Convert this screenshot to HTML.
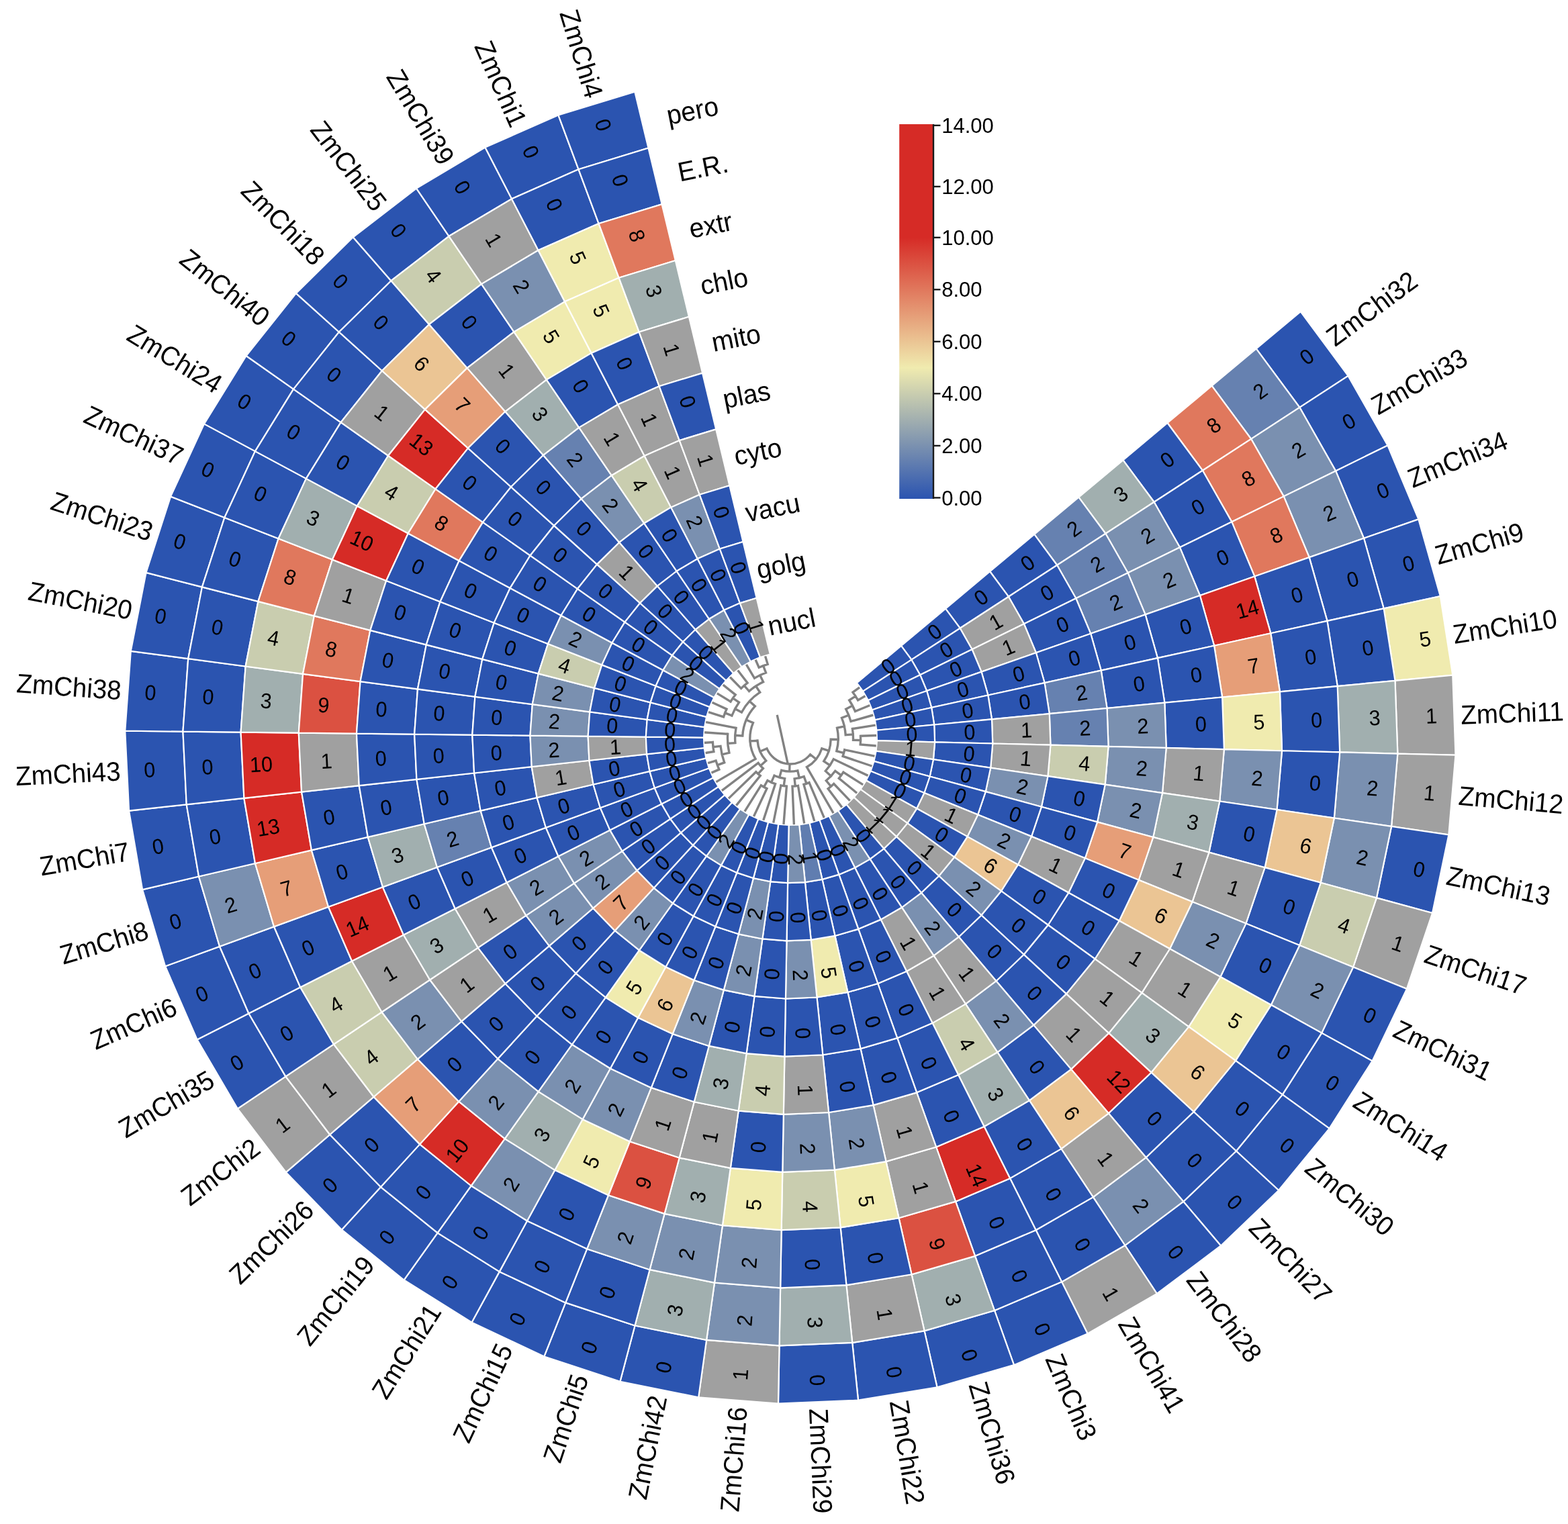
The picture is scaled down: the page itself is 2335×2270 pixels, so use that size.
<!DOCTYPE html>
<html lang="en"><head><meta charset="utf-8"><title>ZmChi subcellular localization heatmap</title>
<style>html,body{margin:0;padding:0;background:#fff}body{width:2335px;height:2270px;overflow:hidden}svg{display:block}text{font-family:"Liberation Sans",Arial,Helvetica,sans-serif;fill:#000}.c{font-size:30.6px;text-anchor:middle}.g{font-size:38.6px}.r{font-size:38.8px}.k{font-size:31px}.t{fill:none;stroke:#8c8c8c;stroke-width:3.2}</style></head><body>
<svg xmlns="http://www.w3.org/2000/svg" width="2335" height="2270" viewBox="0 0 2335 2270">
<rect width="2335" height="2270" fill="#fff"/>
<g stroke="#fff" stroke-width="2.2" stroke-linejoin="miter">
<path d="M1936.77 464.05L2007.61 559.84L1935.36 606.82L1870.69 519.37Z" fill="#2b54b0"/>
<path d="M1870.69 519.37L1935.36 606.82L1863.12 653.81L1804.6 574.68Z" fill="#6681b0"/>
<path d="M1804.6 574.68L1863.12 653.81L1790.87 700.79L1738.52 630Z" fill="#e0785d"/>
<path d="M1738.52 630L1790.87 700.79L1718.62 747.77L1672.43 685.31Z" fill="#2b54b0"/>
<path d="M1672.43 685.31L1718.62 747.77L1646.38 794.76L1606.35 740.63Z" fill="#a1afaf"/>
<path d="M1606.35 740.63L1646.38 794.76L1574.13 841.74L1540.26 795.94Z" fill="#6681b0"/>
<path d="M1540.26 795.94L1574.13 841.74L1501.88 888.72L1474.18 851.26Z" fill="#2b54b0"/>
<path d="M1474.18 851.26L1501.88 888.72L1429.64 935.71L1408.09 906.57Z" fill="#2b54b0"/>
<path d="M1408.09 906.57L1429.64 935.71L1357.39 982.69L1342.01 961.89Z" fill="#2b54b0"/>
<path d="M1342.01 961.89L1357.39 982.69L1285.14 1029.67L1275.92 1017.2Z" fill="#2b54b0"/>
<path d="M2007.61 559.84L2066.43 663.43L1989.07 701.41L1935.36 606.82Z" fill="#2b54b0"/>
<path d="M1935.36 606.82L1989.07 701.41L1911.71 739.38L1863.12 653.81Z" fill="#7a90b0"/>
<path d="M1863.12 653.81L1911.71 739.38L1834.34 777.35L1790.87 700.79Z" fill="#e0785d"/>
<path d="M1790.87 700.79L1834.34 777.35L1756.98 815.32L1718.62 747.77Z" fill="#2b54b0"/>
<path d="M1718.62 747.77L1756.98 815.32L1679.62 853.3L1646.38 794.76Z" fill="#7a90b0"/>
<path d="M1646.38 794.76L1679.62 853.3L1602.26 891.27L1574.13 841.74Z" fill="#6681b0"/>
<path d="M1574.13 841.74L1602.26 891.27L1524.89 929.24L1501.88 888.72Z" fill="#2b54b0"/>
<path d="M1501.88 888.72L1524.89 929.24L1447.53 967.21L1429.64 935.71Z" fill="#a0a0a0"/>
<path d="M1429.64 935.71L1447.53 967.21L1370.17 1005.19L1357.39 982.69Z" fill="#2b54b0"/>
<path d="M1357.39 982.69L1370.17 1005.19L1292.8 1043.16L1285.14 1029.67Z" fill="#2b54b0"/>
<path d="M2066.43 663.43L2112.4 773.34L2031.04 801.75L1989.07 701.41Z" fill="#2b54b0"/>
<path d="M1989.07 701.41L2031.04 801.75L1949.68 830.16L1911.71 739.38Z" fill="#7a90b0"/>
<path d="M1911.71 739.38L1949.68 830.16L1868.32 858.58L1834.34 777.35Z" fill="#e0785d"/>
<path d="M1834.34 777.35L1868.32 858.58L1786.96 886.99L1756.98 815.32Z" fill="#2b54b0"/>
<path d="M1756.98 815.32L1786.96 886.99L1705.59 915.4L1679.62 853.3Z" fill="#7a90b0"/>
<path d="M1679.62 853.3L1705.59 915.4L1624.23 943.82L1602.26 891.27Z" fill="#6681b0"/>
<path d="M1602.26 891.27L1624.23 943.82L1542.87 972.23L1524.89 929.24Z" fill="#2b54b0"/>
<path d="M1524.89 929.24L1542.87 972.23L1461.51 1000.64L1447.53 967.21Z" fill="#a0a0a0"/>
<path d="M1447.53 967.21L1461.51 1000.64L1380.15 1029.06L1370.17 1005.19Z" fill="#2b54b0"/>
<path d="M1370.17 1005.19L1380.15 1029.06L1298.79 1057.47L1292.8 1043.16Z" fill="#2b54b0"/>
<path d="M2112.4 773.34L2144.85 887.97L2060.66 906.41L2031.04 801.75Z" fill="#2b54b0"/>
<path d="M2031.04 801.75L2060.66 906.41L1976.48 924.85L1949.68 830.16Z" fill="#2b54b0"/>
<path d="M1949.68 830.16L1976.48 924.85L1892.3 943.29L1868.32 858.58Z" fill="#2b54b0"/>
<path d="M1868.32 858.58L1892.3 943.29L1808.11 961.74L1786.96 886.99Z" fill="#d62b26"/>
<path d="M1786.96 886.99L1808.11 961.74L1723.93 980.18L1705.59 915.4Z" fill="#2b54b0"/>
<path d="M1705.59 915.4L1723.93 980.18L1639.75 998.62L1624.23 943.82Z" fill="#2b54b0"/>
<path d="M1624.23 943.82L1639.75 998.62L1555.56 1017.07L1542.87 972.23Z" fill="#2b54b0"/>
<path d="M1542.87 972.23L1555.56 1017.07L1471.38 1035.51L1461.51 1000.64Z" fill="#2b54b0"/>
<path d="M1461.51 1000.64L1471.38 1035.51L1387.19 1053.95L1380.15 1029.06Z" fill="#2b54b0"/>
<path d="M1380.15 1029.06L1387.19 1053.95L1303.01 1072.39L1298.79 1057.47Z" fill="#2b54b0"/>
<path d="M2144.85 887.97L2163.3 1005.66L2077.51 1013.87L2060.66 906.41Z" fill="#f0ebaf"/>
<path d="M2060.66 906.41L2077.51 1013.87L1991.72 1022.07L1976.48 924.85Z" fill="#2b54b0"/>
<path d="M1976.48 924.85L1991.72 1022.07L1905.93 1030.28L1892.3 943.29Z" fill="#2b54b0"/>
<path d="M1892.3 943.29L1905.93 1030.28L1820.14 1038.48L1808.11 961.74Z" fill="#e69e78"/>
<path d="M1808.11 961.74L1820.14 1038.48L1734.36 1046.69L1723.93 980.18Z" fill="#2b54b0"/>
<path d="M1723.93 980.18L1734.36 1046.69L1648.57 1054.89L1639.75 998.62Z" fill="#2b54b0"/>
<path d="M1639.75 998.62L1648.57 1054.89L1562.78 1063.1L1555.56 1017.07Z" fill="#6681b0"/>
<path d="M1555.56 1017.07L1562.78 1063.1L1476.99 1071.31L1471.38 1035.51Z" fill="#2b54b0"/>
<path d="M1471.38 1035.51L1476.99 1071.31L1391.2 1079.51L1387.19 1053.95Z" fill="#2b54b0"/>
<path d="M1387.19 1053.95L1391.2 1079.51L1305.41 1087.72L1303.01 1072.39Z" fill="#2b54b0"/>
<path d="M2163.3 1005.66L2167.49 1124.72L2081.34 1122.57L2077.51 1013.87Z" fill="#a0a0a0"/>
<path d="M2077.51 1013.87L2081.34 1122.57L1995.19 1120.42L1991.72 1022.07Z" fill="#a1afaf"/>
<path d="M1991.72 1022.07L1995.19 1120.42L1909.03 1118.27L1905.93 1030.28Z" fill="#2b54b0"/>
<path d="M1905.93 1030.28L1909.03 1118.27L1822.88 1116.12L1820.14 1038.48Z" fill="#f0ebaf"/>
<path d="M1820.14 1038.48L1822.88 1116.12L1736.73 1113.97L1734.36 1046.69Z" fill="#2b54b0"/>
<path d="M1734.36 1046.69L1736.73 1113.97L1650.57 1111.82L1648.57 1054.89Z" fill="#7a90b0"/>
<path d="M1648.57 1054.89L1650.57 1111.82L1564.42 1109.67L1562.78 1063.1Z" fill="#6681b0"/>
<path d="M1562.78 1063.1L1564.42 1109.67L1478.27 1107.52L1476.99 1071.31Z" fill="#a0a0a0"/>
<path d="M1476.99 1071.31L1478.27 1107.52L1392.11 1105.37L1391.2 1079.51Z" fill="#2b54b0"/>
<path d="M1391.2 1079.51L1392.11 1105.37L1305.96 1103.22L1305.41 1087.72Z" fill="#2b54b0"/>
<path d="M2167.49 1124.72L2157.37 1243.42L2072.09 1230.94L2081.34 1122.57Z" fill="#a0a0a0"/>
<path d="M2081.34 1122.57L2072.09 1230.94L1986.82 1218.47L1995.19 1120.42Z" fill="#7a90b0"/>
<path d="M1995.19 1120.42L1986.82 1218.47L1901.55 1205.99L1909.03 1118.27Z" fill="#2b54b0"/>
<path d="M1909.03 1118.27L1901.55 1205.99L1816.28 1193.52L1822.88 1116.12Z" fill="#7a90b0"/>
<path d="M1822.88 1116.12L1816.28 1193.52L1731 1181.05L1736.73 1113.97Z" fill="#a0a0a0"/>
<path d="M1736.73 1113.97L1731 1181.05L1645.73 1168.57L1650.57 1111.82Z" fill="#7a90b0"/>
<path d="M1650.57 1111.82L1645.73 1168.57L1560.46 1156.1L1564.42 1109.67Z" fill="#c9cdaf"/>
<path d="M1564.42 1109.67L1560.46 1156.1L1475.19 1143.62L1478.27 1107.52Z" fill="#a0a0a0"/>
<path d="M1478.27 1107.52L1475.19 1143.62L1389.91 1131.15L1392.11 1105.37Z" fill="#2b54b0"/>
<path d="M1392.11 1105.37L1389.91 1131.15L1304.64 1118.67L1305.96 1103.22Z" fill="#a0a0a0"/>
<path d="M2157.37 1243.42L2133.07 1360.04L2049.91 1337.43L2072.09 1230.94Z" fill="#2b54b0"/>
<path d="M2072.09 1230.94L2049.91 1337.43L1966.75 1314.81L1986.82 1218.47Z" fill="#7a90b0"/>
<path d="M1986.82 1218.47L1966.75 1314.81L1883.59 1292.19L1901.55 1205.99Z" fill="#ebc594"/>
<path d="M1901.55 1205.99L1883.59 1292.19L1800.43 1269.57L1816.28 1193.52Z" fill="#2b54b0"/>
<path d="M1816.28 1193.52L1800.43 1269.57L1717.27 1246.95L1731 1181.05Z" fill="#a1afaf"/>
<path d="M1731 1181.05L1717.27 1246.95L1634.11 1224.33L1645.73 1168.57Z" fill="#7a90b0"/>
<path d="M1645.73 1168.57L1634.11 1224.33L1550.95 1201.71L1560.46 1156.1Z" fill="#2b54b0"/>
<path d="M1560.46 1156.1L1550.95 1201.71L1467.8 1179.09L1475.19 1143.62Z" fill="#7a90b0"/>
<path d="M1475.19 1143.62L1467.8 1179.09L1384.64 1156.48L1389.91 1131.15Z" fill="#2b54b0"/>
<path d="M1389.91 1131.15L1384.64 1156.48L1301.48 1133.86L1304.64 1118.67Z" fill="#2b54b0"/>
<path d="M2133.07 1360.04L2094.94 1472.91L2015.1 1440.48L2049.91 1337.43Z" fill="#a0a0a0"/>
<path d="M2049.91 1337.43L2015.1 1440.48L1935.26 1408.04L1966.75 1314.81Z" fill="#c9cdaf"/>
<path d="M1966.75 1314.81L1935.26 1408.04L1855.42 1375.6L1883.59 1292.19Z" fill="#2b54b0"/>
<path d="M1883.59 1292.19L1855.42 1375.6L1775.57 1343.17L1800.43 1269.57Z" fill="#a0a0a0"/>
<path d="M1800.43 1269.57L1775.57 1343.17L1695.73 1310.73L1717.27 1246.95Z" fill="#a0a0a0"/>
<path d="M1717.27 1246.95L1695.73 1310.73L1615.89 1278.3L1634.11 1224.33Z" fill="#e69e78"/>
<path d="M1634.11 1224.33L1615.89 1278.3L1536.04 1245.86L1550.95 1201.71Z" fill="#2b54b0"/>
<path d="M1550.95 1201.71L1536.04 1245.86L1456.2 1213.42L1467.8 1179.09Z" fill="#2b54b0"/>
<path d="M1467.8 1179.09L1456.2 1213.42L1376.36 1180.99L1384.64 1156.48Z" fill="#2b54b0"/>
<path d="M1384.64 1156.48L1376.36 1180.99L1296.51 1148.55L1301.48 1133.86Z" fill="#2b54b0"/>
<path d="M2094.94 1472.91L2043.55 1580.39L1968.18 1538.6L2015.1 1440.48Z" fill="#2b54b0"/>
<path d="M2015.1 1440.48L1968.18 1538.6L1892.81 1496.82L1935.26 1408.04Z" fill="#7a90b0"/>
<path d="M1935.26 1408.04L1892.81 1496.82L1817.43 1455.04L1855.42 1375.6Z" fill="#2b54b0"/>
<path d="M1855.42 1375.6L1817.43 1455.04L1742.06 1413.25L1775.57 1343.17Z" fill="#7a90b0"/>
<path d="M1775.57 1343.17L1742.06 1413.25L1666.69 1371.47L1695.73 1310.73Z" fill="#ebc594"/>
<path d="M1695.73 1310.73L1666.69 1371.47L1591.31 1329.68L1615.89 1278.3Z" fill="#2b54b0"/>
<path d="M1615.89 1278.3L1591.31 1329.68L1515.94 1287.9L1536.04 1245.86Z" fill="#a0a0a0"/>
<path d="M1536.04 1245.86L1515.94 1287.9L1440.57 1246.11L1456.2 1213.42Z" fill="#7a90b0"/>
<path d="M1456.2 1213.42L1440.57 1246.11L1365.2 1204.33L1376.36 1180.99Z" fill="#a0a0a0"/>
<path d="M1376.36 1180.99L1365.2 1204.33L1289.82 1162.55L1296.51 1148.55Z" fill="#2b54b0"/>
<path d="M2043.55 1580.39L1979.63 1680.92L1909.82 1630.39L1968.18 1538.6Z" fill="#2b54b0"/>
<path d="M1968.18 1538.6L1909.82 1630.39L1840.01 1579.86L1892.81 1496.82Z" fill="#2b54b0"/>
<path d="M1892.81 1496.82L1840.01 1579.86L1770.19 1529.33L1817.43 1455.04Z" fill="#f0ebaf"/>
<path d="M1817.43 1455.04L1770.19 1529.33L1700.38 1478.81L1742.06 1413.25Z" fill="#a0a0a0"/>
<path d="M1742.06 1413.25L1700.38 1478.81L1630.57 1428.28L1666.69 1371.47Z" fill="#a0a0a0"/>
<path d="M1666.69 1371.47L1630.57 1428.28L1560.75 1377.75L1591.31 1329.68Z" fill="#2b54b0"/>
<path d="M1591.31 1329.68L1560.75 1377.75L1490.94 1327.22L1515.94 1287.9Z" fill="#2b54b0"/>
<path d="M1515.94 1287.9L1490.94 1327.22L1421.13 1276.69L1440.57 1246.11Z" fill="#ebc594"/>
<path d="M1440.57 1246.11L1421.13 1276.69L1351.31 1226.16L1365.2 1204.33Z" fill="#2b54b0"/>
<path d="M1365.2 1204.33L1351.31 1226.16L1281.5 1175.63L1289.82 1162.55Z" fill="#a0a0a0"/>
<path d="M1979.63 1680.92L1904.11 1773.05L1840.86 1714.51L1909.82 1630.39Z" fill="#2b54b0"/>
<path d="M1909.82 1630.39L1840.86 1714.51L1777.62 1655.97L1840.01 1579.86Z" fill="#2b54b0"/>
<path d="M1840.01 1579.86L1777.62 1655.97L1714.38 1597.43L1770.19 1529.33Z" fill="#ebc594"/>
<path d="M1770.19 1529.33L1714.38 1597.43L1651.13 1538.88L1700.38 1478.81Z" fill="#a1afaf"/>
<path d="M1700.38 1478.81L1651.13 1538.88L1587.89 1480.34L1630.57 1428.28Z" fill="#a0a0a0"/>
<path d="M1630.57 1428.28L1587.89 1480.34L1524.64 1421.8L1560.75 1377.75Z" fill="#2b54b0"/>
<path d="M1560.75 1377.75L1524.64 1421.8L1461.4 1363.26L1490.94 1327.22Z" fill="#2b54b0"/>
<path d="M1490.94 1327.22L1461.4 1363.26L1398.16 1304.71L1421.13 1276.69Z" fill="#7a90b0"/>
<path d="M1421.13 1276.69L1398.16 1304.71L1334.91 1246.17L1351.31 1226.16Z" fill="#a0a0a0"/>
<path d="M1351.31 1226.16L1334.91 1246.17L1271.67 1187.63L1281.5 1175.63Z" fill="#a0a0a0"/>
<path d="M1904.11 1773.05L1818.07 1855.45L1762.31 1789.74L1840.86 1714.51Z" fill="#2b54b0"/>
<path d="M1840.86 1714.51L1762.31 1789.74L1706.55 1724.03L1777.62 1655.97Z" fill="#2b54b0"/>
<path d="M1777.62 1655.97L1706.55 1724.03L1650.79 1658.33L1714.38 1597.43Z" fill="#2b54b0"/>
<path d="M1714.38 1597.43L1650.79 1658.33L1595.03 1592.62L1651.13 1538.88Z" fill="#d62b26"/>
<path d="M1651.13 1538.88L1595.03 1592.62L1539.27 1526.91L1587.89 1480.34Z" fill="#a0a0a0"/>
<path d="M1587.89 1480.34L1539.27 1526.91L1483.51 1461.2L1524.64 1421.8Z" fill="#2b54b0"/>
<path d="M1524.64 1421.8L1483.51 1461.2L1427.75 1395.49L1461.4 1363.26Z" fill="#2b54b0"/>
<path d="M1461.4 1363.26L1427.75 1395.49L1371.99 1329.78L1398.16 1304.71Z" fill="#2b54b0"/>
<path d="M1398.16 1304.71L1371.99 1329.78L1316.23 1264.07L1334.91 1246.17Z" fill="#2b54b0"/>
<path d="M1334.91 1246.17L1316.23 1264.07L1260.47 1198.36L1271.67 1187.63Z" fill="#a0a0a0"/>
<path d="M1818.07 1855.45L1722.77 1926.93L1675.3 1855.01L1762.31 1789.74Z" fill="#2b54b0"/>
<path d="M1762.31 1789.74L1675.3 1855.01L1627.83 1783.08L1706.55 1724.03Z" fill="#7a90b0"/>
<path d="M1706.55 1724.03L1627.83 1783.08L1580.36 1711.15L1650.79 1658.33Z" fill="#a0a0a0"/>
<path d="M1650.79 1658.33L1580.36 1711.15L1532.88 1639.23L1595.03 1592.62Z" fill="#ebc594"/>
<path d="M1595.03 1592.62L1532.88 1639.23L1485.41 1567.3L1539.27 1526.91Z" fill="#2b54b0"/>
<path d="M1539.27 1526.91L1485.41 1567.3L1437.94 1495.37L1483.51 1461.2Z" fill="#7a90b0"/>
<path d="M1483.51 1461.2L1437.94 1495.37L1390.47 1423.45L1427.75 1395.49Z" fill="#a0a0a0"/>
<path d="M1427.75 1395.49L1390.47 1423.45L1343 1351.52L1371.99 1329.78Z" fill="#7a90b0"/>
<path d="M1371.99 1329.78L1343 1351.52L1295.53 1279.59L1316.23 1264.07Z" fill="#2b54b0"/>
<path d="M1316.23 1264.07L1295.53 1279.59L1248.06 1207.67L1260.47 1198.36Z" fill="#2b54b0"/>
<path d="M1722.77 1926.93L1619.57 1986.46L1581.08 1909.36L1675.3 1855.01Z" fill="#a0a0a0"/>
<path d="M1675.3 1855.01L1581.08 1909.36L1542.58 1832.25L1627.83 1783.08Z" fill="#2b54b0"/>
<path d="M1627.83 1783.08L1542.58 1832.25L1504.09 1755.15L1580.36 1711.15Z" fill="#2b54b0"/>
<path d="M1580.36 1711.15L1504.09 1755.15L1465.59 1678.04L1532.88 1639.23Z" fill="#2b54b0"/>
<path d="M1532.88 1639.23L1465.59 1678.04L1427.1 1600.94L1485.41 1567.3Z" fill="#a1afaf"/>
<path d="M1485.41 1567.3L1427.1 1600.94L1388.6 1523.83L1437.94 1495.37Z" fill="#c9cdaf"/>
<path d="M1437.94 1495.37L1388.6 1523.83L1350.11 1446.73L1390.47 1423.45Z" fill="#a0a0a0"/>
<path d="M1390.47 1423.45L1350.11 1446.73L1311.61 1369.62L1343 1351.52Z" fill="#a0a0a0"/>
<path d="M1343 1351.52L1311.61 1369.62L1273.12 1292.52L1295.53 1279.59Z" fill="#2b54b0"/>
<path d="M1295.53 1279.59L1273.12 1292.52L1234.62 1215.42L1248.06 1207.67Z" fill="#7a90b0"/>
<path d="M1619.57 1986.46L1509.98 2033.17L1481.02 1952L1581.08 1909.36Z" fill="#2b54b0"/>
<path d="M1581.08 1909.36L1481.02 1952L1452.06 1870.84L1542.58 1832.25Z" fill="#2b54b0"/>
<path d="M1542.58 1832.25L1452.06 1870.84L1423.09 1789.67L1504.09 1755.15Z" fill="#2b54b0"/>
<path d="M1504.09 1755.15L1423.09 1789.67L1394.13 1708.5L1465.59 1678.04Z" fill="#d62b26"/>
<path d="M1465.59 1678.04L1394.13 1708.5L1365.17 1627.33L1427.1 1600.94Z" fill="#2b54b0"/>
<path d="M1427.1 1600.94L1365.17 1627.33L1336.21 1546.17L1388.6 1523.83Z" fill="#2b54b0"/>
<path d="M1388.6 1523.83L1336.21 1546.17L1307.24 1465L1350.11 1446.73Z" fill="#2b54b0"/>
<path d="M1350.11 1446.73L1307.24 1465L1278.28 1383.83L1311.61 1369.62Z" fill="#2b54b0"/>
<path d="M1311.61 1369.62L1278.28 1383.83L1249.32 1302.66L1273.12 1292.52Z" fill="#2b54b0"/>
<path d="M1273.12 1292.52L1249.32 1302.66L1220.35 1221.5L1234.62 1215.42Z" fill="#2b54b0"/>
<path d="M1509.98 2033.17L1395.58 2066.39L1376.56 1982.33L1481.02 1952Z" fill="#2b54b0"/>
<path d="M1481.02 1952L1376.56 1982.33L1357.55 1898.28L1452.06 1870.84Z" fill="#a1afaf"/>
<path d="M1452.06 1870.84L1357.55 1898.28L1338.54 1814.22L1423.09 1789.67Z" fill="#db5141"/>
<path d="M1423.09 1789.67L1338.54 1814.22L1319.53 1730.16L1394.13 1708.5Z" fill="#a0a0a0"/>
<path d="M1394.13 1708.5L1319.53 1730.16L1300.52 1646.11L1365.17 1627.33Z" fill="#a0a0a0"/>
<path d="M1365.17 1627.33L1300.52 1646.11L1281.51 1562.05L1336.21 1546.17Z" fill="#2b54b0"/>
<path d="M1336.21 1546.17L1281.51 1562.05L1262.49 1477.99L1307.24 1465Z" fill="#2b54b0"/>
<path d="M1307.24 1465L1262.49 1477.99L1243.48 1393.94L1278.28 1383.83Z" fill="#2b54b0"/>
<path d="M1278.28 1383.83L1243.48 1393.94L1224.47 1309.88L1249.32 1302.66Z" fill="#2b54b0"/>
<path d="M1249.32 1302.66L1224.47 1309.88L1205.46 1225.82L1220.35 1221.5Z" fill="#2b54b0"/>
<path d="M1395.58 2066.39L1278.01 2085.64L1269.22 1999.91L1376.56 1982.33Z" fill="#2b54b0"/>
<path d="M1376.56 1982.33L1269.22 1999.91L1260.44 1914.18L1357.55 1898.28Z" fill="#a0a0a0"/>
<path d="M1357.55 1898.28L1260.44 1914.18L1251.65 1828.44L1338.54 1814.22Z" fill="#2b54b0"/>
<path d="M1338.54 1814.22L1251.65 1828.44L1242.87 1742.71L1319.53 1730.16Z" fill="#f0ebaf"/>
<path d="M1319.53 1730.16L1242.87 1742.71L1234.08 1656.98L1300.52 1646.11Z" fill="#7a90b0"/>
<path d="M1300.52 1646.11L1234.08 1656.98L1225.3 1571.25L1281.51 1562.05Z" fill="#2b54b0"/>
<path d="M1281.51 1562.05L1225.3 1571.25L1216.51 1485.52L1262.49 1477.99Z" fill="#2b54b0"/>
<path d="M1262.49 1477.99L1216.51 1485.52L1207.72 1399.79L1243.48 1393.94Z" fill="#f0ebaf"/>
<path d="M1243.48 1393.94L1207.72 1399.79L1198.94 1314.06L1224.47 1309.88Z" fill="#2b54b0"/>
<path d="M1224.47 1309.88L1198.94 1314.06L1190.15 1228.33L1205.46 1225.82Z" fill="#607db0"/>
<path d="M1278.01 2085.64L1158.98 2090.64L1160.55 2004.47L1269.22 1999.91Z" fill="#2b54b0"/>
<path d="M1269.22 1999.91L1160.55 2004.47L1162.12 1918.3L1260.44 1914.18Z" fill="#a1afaf"/>
<path d="M1260.44 1914.18L1162.12 1918.3L1163.69 1832.14L1251.65 1828.44Z" fill="#2b54b0"/>
<path d="M1251.65 1828.44L1163.69 1832.14L1165.25 1745.97L1242.87 1742.71Z" fill="#c9cdaf"/>
<path d="M1242.87 1742.71L1165.25 1745.97L1166.82 1659.81L1234.08 1656.98Z" fill="#7a90b0"/>
<path d="M1234.08 1656.98L1166.82 1659.81L1168.39 1573.64L1225.3 1571.25Z" fill="#a0a0a0"/>
<path d="M1225.3 1571.25L1168.39 1573.64L1169.95 1487.48L1216.51 1485.52Z" fill="#2b54b0"/>
<path d="M1216.51 1485.52L1169.95 1487.48L1171.52 1401.31L1207.72 1399.79Z" fill="#7a90b0"/>
<path d="M1207.72 1399.79L1171.52 1401.31L1173.09 1315.14L1198.94 1314.06Z" fill="#2b54b0"/>
<path d="M1198.94 1314.06L1173.09 1315.14L1174.65 1228.98L1190.15 1228.33Z" fill="#7a90b0"/>
<path d="M1158.98 2090.64L1040.22 2081.31L1052.12 1995.96L1160.55 2004.47Z" fill="#a0a0a0"/>
<path d="M1160.55 2004.47L1052.12 1995.96L1064.01 1910.6L1162.12 1918.3Z" fill="#7a90b0"/>
<path d="M1162.12 1918.3L1064.01 1910.6L1075.91 1825.25L1163.69 1832.14Z" fill="#7a90b0"/>
<path d="M1163.69 1832.14L1075.91 1825.25L1087.81 1739.89L1165.25 1745.97Z" fill="#f0ebaf"/>
<path d="M1165.25 1745.97L1087.81 1739.89L1099.7 1654.54L1166.82 1659.81Z" fill="#2b54b0"/>
<path d="M1166.82 1659.81L1099.7 1654.54L1111.6 1569.18L1168.39 1573.64Z" fill="#c9cdaf"/>
<path d="M1168.39 1573.64L1111.6 1569.18L1123.5 1483.83L1169.95 1487.48Z" fill="#2b54b0"/>
<path d="M1169.95 1487.48L1123.5 1483.83L1135.4 1398.47L1171.52 1401.31Z" fill="#2b54b0"/>
<path d="M1171.52 1401.31L1135.4 1398.47L1147.29 1313.12L1173.09 1315.14Z" fill="#2b54b0"/>
<path d="M1173.09 1315.14L1147.29 1313.12L1159.19 1227.76L1174.65 1228.98Z" fill="#2b54b0"/>
<path d="M1040.22 2081.31L923.43 2057.8L945.49 1974.49L1052.12 1995.96Z" fill="#2b54b0"/>
<path d="M1052.12 1995.96L945.49 1974.49L967.54 1891.18L1064.01 1910.6Z" fill="#a1afaf"/>
<path d="M1064.01 1910.6L967.54 1891.18L989.6 1807.87L1075.91 1825.25Z" fill="#7a90b0"/>
<path d="M1075.91 1825.25L989.6 1807.87L1011.65 1724.56L1087.81 1739.89Z" fill="#a1afaf"/>
<path d="M1087.81 1739.89L1011.65 1724.56L1033.71 1641.25L1099.7 1654.54Z" fill="#a0a0a0"/>
<path d="M1099.7 1654.54L1033.71 1641.25L1055.76 1557.94L1111.6 1569.18Z" fill="#a1afaf"/>
<path d="M1111.6 1569.18L1055.76 1557.94L1077.82 1474.63L1123.5 1483.83Z" fill="#2b54b0"/>
<path d="M1123.5 1483.83L1077.82 1474.63L1099.87 1391.32L1135.4 1398.47Z" fill="#7a90b0"/>
<path d="M1135.4 1398.47L1099.87 1391.32L1121.93 1308.01L1147.29 1313.12Z" fill="#7a90b0"/>
<path d="M1147.29 1313.12L1121.93 1308.01L1143.99 1224.7L1159.19 1227.76Z" fill="#2b54b0"/>
<path d="M923.43 2057.8L810.31 2020.45L842.2 1940.39L945.49 1974.49Z" fill="#2b54b0"/>
<path d="M945.49 1974.49L842.2 1940.39L874.1 1860.32L967.54 1891.18Z" fill="#2b54b0"/>
<path d="M967.54 1891.18L874.1 1860.32L905.99 1780.26L989.6 1807.87Z" fill="#7a90b0"/>
<path d="M989.6 1807.87L905.99 1780.26L937.89 1700.2L1011.65 1724.56Z" fill="#db5141"/>
<path d="M1011.65 1724.56L937.89 1700.2L969.78 1620.14L1033.71 1641.25Z" fill="#a0a0a0"/>
<path d="M1033.71 1641.25L969.78 1620.14L1001.68 1540.08L1055.76 1557.94Z" fill="#2b54b0"/>
<path d="M1055.76 1557.94L1001.68 1540.08L1033.57 1460.02L1077.82 1474.63Z" fill="#7a90b0"/>
<path d="M1077.82 1474.63L1033.57 1460.02L1065.47 1379.96L1099.87 1391.32Z" fill="#2b54b0"/>
<path d="M1099.87 1391.32L1065.47 1379.96L1097.36 1299.9L1121.93 1308.01Z" fill="#2b54b0"/>
<path d="M1121.93 1308.01L1097.36 1299.9L1129.26 1219.84L1143.99 1224.7Z" fill="#2b54b0"/>
<path d="M810.31 2020.45L702.49 1969.78L743.76 1894.13L842.2 1940.39Z" fill="#2b54b0"/>
<path d="M842.2 1940.39L743.76 1894.13L785.03 1818.47L874.1 1860.32Z" fill="#2b54b0"/>
<path d="M874.1 1860.32L785.03 1818.47L826.31 1742.82L905.99 1780.26Z" fill="#2b54b0"/>
<path d="M905.99 1780.26L826.31 1742.82L867.58 1667.17L937.89 1700.2Z" fill="#f0ebaf"/>
<path d="M937.89 1700.2L867.58 1667.17L908.85 1591.51L969.78 1620.14Z" fill="#7a90b0"/>
<path d="M969.78 1620.14L908.85 1591.51L950.13 1515.86L1001.68 1540.08Z" fill="#2b54b0"/>
<path d="M1001.68 1540.08L950.13 1515.86L991.4 1440.21L1033.57 1460.02Z" fill="#ebc594"/>
<path d="M1033.57 1460.02L991.4 1440.21L1032.67 1364.55L1065.47 1379.96Z" fill="#2b54b0"/>
<path d="M1065.47 1379.96L1032.67 1364.55L1073.95 1288.9L1097.36 1299.9Z" fill="#2b54b0"/>
<path d="M1097.36 1299.9L1073.95 1288.9L1115.22 1213.24L1129.26 1219.84Z" fill="#2b54b0"/>
<path d="M702.49 1969.78L601.52 1906.54L651.58 1836.39L743.76 1894.13Z" fill="#2b54b0"/>
<path d="M743.76 1894.13L651.58 1836.39L701.63 1766.24L785.03 1818.47Z" fill="#2b54b0"/>
<path d="M785.03 1818.47L701.63 1766.24L751.69 1696.08L826.31 1742.82Z" fill="#7a90b0"/>
<path d="M826.31 1742.82L751.69 1696.08L801.74 1625.93L867.58 1667.17Z" fill="#a1afaf"/>
<path d="M867.58 1667.17L801.74 1625.93L851.8 1555.78L908.85 1591.51Z" fill="#7a90b0"/>
<path d="M908.85 1591.51L851.8 1555.78L901.85 1485.62L950.13 1515.86Z" fill="#2b54b0"/>
<path d="M950.13 1515.86L901.85 1485.62L951.91 1415.47L991.4 1440.21Z" fill="#f0ebaf"/>
<path d="M991.4 1440.21L951.91 1415.47L1001.96 1345.32L1032.67 1364.55Z" fill="#2b54b0"/>
<path d="M1032.67 1364.55L1001.96 1345.32L1052.02 1275.16L1073.95 1288.9Z" fill="#2b54b0"/>
<path d="M1073.95 1288.9L1052.02 1275.16L1102.07 1205.01L1115.22 1213.24Z" fill="#7a90b0"/>
<path d="M601.52 1906.54L508.88 1831.65L567 1768.01L651.58 1836.39Z" fill="#2b54b0"/>
<path d="M651.58 1836.39L567 1768.01L625.11 1704.37L701.63 1766.24Z" fill="#2b54b0"/>
<path d="M701.63 1766.24L625.11 1704.37L683.22 1640.73L751.69 1696.08Z" fill="#d62b26"/>
<path d="M751.69 1696.08L683.22 1640.73L741.34 1577.09L801.74 1625.93Z" fill="#7a90b0"/>
<path d="M801.74 1625.93L741.34 1577.09L799.45 1513.45L851.8 1555.78Z" fill="#2b54b0"/>
<path d="M851.8 1555.78L799.45 1513.45L857.56 1449.81L901.85 1485.62Z" fill="#2b54b0"/>
<path d="M901.85 1485.62L857.56 1449.81L915.67 1386.17L951.91 1415.47Z" fill="#2b54b0"/>
<path d="M951.91 1415.47L915.67 1386.17L973.79 1322.54L1001.96 1345.32Z" fill="#7a90b0"/>
<path d="M1001.96 1345.32L973.79 1322.54L1031.9 1258.9L1052.02 1275.16Z" fill="#2b54b0"/>
<path d="M1052.02 1275.16L1031.9 1258.9L1090.01 1195.26L1102.07 1205.01Z" fill="#2b54b0"/>
<path d="M508.88 1831.65L425.9 1746.17L491.23 1689.97L567 1768.01Z" fill="#2b54b0"/>
<path d="M567 1768.01L491.23 1689.97L556.56 1633.76L625.11 1704.37Z" fill="#2b54b0"/>
<path d="M625.11 1704.37L556.56 1633.76L621.89 1577.56L683.22 1640.73Z" fill="#e69e78"/>
<path d="M683.22 1640.73L621.89 1577.56L687.22 1521.35L741.34 1577.09Z" fill="#2b54b0"/>
<path d="M741.34 1577.09L687.22 1521.35L752.55 1465.15L799.45 1513.45Z" fill="#2b54b0"/>
<path d="M799.45 1513.45L752.55 1465.15L817.89 1408.95L857.56 1449.81Z" fill="#2b54b0"/>
<path d="M857.56 1449.81L817.89 1408.95L883.22 1352.74L915.67 1386.17Z" fill="#2b54b0"/>
<path d="M915.67 1386.17L883.22 1352.74L948.55 1296.54L973.79 1322.54Z" fill="#e69e78"/>
<path d="M973.79 1322.54L948.55 1296.54L1013.88 1240.33L1031.9 1258.9Z" fill="#2b54b0"/>
<path d="M1031.9 1258.9L1013.88 1240.33L1079.21 1184.13L1090.01 1195.26Z" fill="#2b54b0"/>
<path d="M425.9 1746.17L353.78 1651.35L425.38 1603.39L491.23 1689.97Z" fill="#a0a0a0"/>
<path d="M491.23 1689.97L425.38 1603.39L496.99 1555.44L556.56 1633.76Z" fill="#a0a0a0"/>
<path d="M556.56 1633.76L496.99 1555.44L568.59 1507.48L621.89 1577.56Z" fill="#c9cdaf"/>
<path d="M621.89 1577.56L568.59 1507.48L640.19 1459.52L687.22 1521.35Z" fill="#7a90b0"/>
<path d="M687.22 1521.35L640.19 1459.52L711.8 1411.57L752.55 1465.15Z" fill="#a0a0a0"/>
<path d="M752.55 1465.15L711.8 1411.57L783.4 1363.61L817.89 1408.95Z" fill="#2b54b0"/>
<path d="M817.89 1408.95L783.4 1363.61L855.01 1315.65L883.22 1352.74Z" fill="#7a90b0"/>
<path d="M883.22 1352.74L855.01 1315.65L926.61 1267.7L948.55 1296.54Z" fill="#7a90b0"/>
<path d="M948.55 1296.54L926.61 1267.7L998.21 1219.74L1013.88 1240.33Z" fill="#2b54b0"/>
<path d="M1013.88 1240.33L998.21 1219.74L1069.82 1171.78L1079.21 1184.13Z" fill="#2b54b0"/>
<path d="M353.78 1651.35L293.55 1548.56L370.4 1509.55L425.38 1603.39Z" fill="#2b54b0"/>
<path d="M425.38 1603.39L370.4 1509.55L447.24 1470.53L496.99 1555.44Z" fill="#2b54b0"/>
<path d="M496.99 1555.44L447.24 1470.53L524.08 1431.51L568.59 1507.48Z" fill="#c9cdaf"/>
<path d="M568.59 1507.48L524.08 1431.51L600.92 1392.5L640.19 1459.52Z" fill="#a0a0a0"/>
<path d="M640.19 1459.52L600.92 1392.5L677.77 1353.48L711.8 1411.57Z" fill="#a1afaf"/>
<path d="M711.8 1411.57L677.77 1353.48L754.61 1314.47L783.4 1363.61Z" fill="#a0a0a0"/>
<path d="M783.4 1363.61L754.61 1314.47L831.45 1275.45L855.01 1315.65Z" fill="#7a90b0"/>
<path d="M855.01 1315.65L831.45 1275.45L908.29 1236.43L926.61 1267.7Z" fill="#7a90b0"/>
<path d="M926.61 1267.7L908.29 1236.43L985.14 1197.42L998.21 1219.74Z" fill="#2b54b0"/>
<path d="M998.21 1219.74L985.14 1197.42L1061.98 1158.4L1069.82 1171.78Z" fill="#2b54b0"/>
<path d="M293.55 1548.56L246.1 1439.29L327.07 1409.78L370.4 1509.55Z" fill="#2b54b0"/>
<path d="M370.4 1509.55L327.07 1409.78L408.04 1380.27L447.24 1470.53Z" fill="#2b54b0"/>
<path d="M447.24 1470.53L408.04 1380.27L489.01 1350.75L524.08 1431.51Z" fill="#2b54b0"/>
<path d="M524.08 1431.51L489.01 1350.75L569.98 1321.24L600.92 1392.5Z" fill="#d62b26"/>
<path d="M600.92 1392.5L569.98 1321.24L650.95 1291.73L677.77 1353.48Z" fill="#2b54b0"/>
<path d="M677.77 1353.48L650.95 1291.73L731.92 1262.22L754.61 1314.47Z" fill="#2b54b0"/>
<path d="M754.61 1314.47L731.92 1262.22L812.89 1232.71L831.45 1275.45Z" fill="#2b54b0"/>
<path d="M831.45 1275.45L812.89 1232.71L893.86 1203.2L908.29 1236.43Z" fill="#2b54b0"/>
<path d="M908.29 1236.43L893.86 1203.2L974.83 1173.69L985.14 1197.42Z" fill="#2b54b0"/>
<path d="M985.14 1197.42L974.83 1173.69L1055.8 1144.17L1061.98 1158.4Z" fill="#2b54b0"/>
<path d="M246.1 1439.29L212.11 1325.11L296.04 1305.53L327.07 1409.78Z" fill="#2b54b0"/>
<path d="M327.07 1409.78L296.04 1305.53L379.96 1285.95L408.04 1380.27Z" fill="#7a90b0"/>
<path d="M408.04 1380.27L379.96 1285.95L463.89 1266.37L489.01 1350.75Z" fill="#e69e78"/>
<path d="M489.01 1350.75L463.89 1266.37L547.82 1246.79L569.98 1321.24Z" fill="#2b54b0"/>
<path d="M569.98 1321.24L547.82 1246.79L631.74 1227.21L650.95 1291.73Z" fill="#a1afaf"/>
<path d="M650.95 1291.73L631.74 1227.21L715.67 1207.63L731.92 1262.22Z" fill="#6681b0"/>
<path d="M731.92 1262.22L715.67 1207.63L799.59 1188.05L812.89 1232.71Z" fill="#2b54b0"/>
<path d="M812.89 1232.71L799.59 1188.05L883.52 1168.47L893.86 1203.2Z" fill="#2b54b0"/>
<path d="M893.86 1203.2L883.52 1168.47L967.45 1148.89L974.83 1173.69Z" fill="#2b54b0"/>
<path d="M974.83 1173.69L967.45 1148.89L1051.37 1129.31L1055.8 1144.17Z" fill="#2b54b0"/>
<path d="M212.11 1325.11L192.07 1207.68L277.74 1198.31L296.04 1305.53Z" fill="#2b54b0"/>
<path d="M296.04 1305.53L277.74 1198.31L363.41 1188.95L379.96 1285.95Z" fill="#2b54b0"/>
<path d="M379.96 1285.95L363.41 1188.95L449.08 1179.58L463.89 1266.37Z" fill="#d62b26"/>
<path d="M463.89 1266.37L449.08 1179.58L534.75 1170.21L547.82 1246.79Z" fill="#2b54b0"/>
<path d="M547.82 1246.79L534.75 1170.21L620.42 1160.85L631.74 1227.21Z" fill="#2b54b0"/>
<path d="M631.74 1227.21L620.42 1160.85L706.09 1151.48L715.67 1207.63Z" fill="#2b54b0"/>
<path d="M715.67 1207.63L706.09 1151.48L791.76 1142.12L799.59 1188.05Z" fill="#2b54b0"/>
<path d="M799.59 1188.05L791.76 1142.12L877.42 1132.75L883.52 1168.47Z" fill="#a0a0a0"/>
<path d="M883.52 1168.47L877.42 1132.75L963.09 1123.39L967.45 1148.89Z" fill="#2b54b0"/>
<path d="M967.45 1148.89L963.09 1123.39L1048.76 1114.02L1051.37 1129.31Z" fill="#2b54b0"/>
<path d="M192.07 1207.68L186.26 1088.69L272.44 1089.67L277.74 1198.31Z" fill="#2b54b0"/>
<path d="M277.74 1198.31L272.44 1089.67L358.61 1090.66L363.41 1188.95Z" fill="#2b54b0"/>
<path d="M363.41 1188.95L358.61 1090.66L444.79 1091.64L449.08 1179.58Z" fill="#d62b26"/>
<path d="M449.08 1179.58L444.79 1091.64L530.96 1092.62L534.75 1170.21Z" fill="#a0a0a0"/>
<path d="M534.75 1170.21L530.96 1092.62L617.14 1093.61L620.42 1160.85Z" fill="#2b54b0"/>
<path d="M620.42 1160.85L617.14 1093.61L703.31 1094.59L706.09 1151.48Z" fill="#2b54b0"/>
<path d="M706.09 1151.48L703.31 1094.59L789.49 1095.58L791.76 1142.12Z" fill="#2b54b0"/>
<path d="M791.76 1142.12L789.49 1095.58L875.66 1096.56L877.42 1132.75Z" fill="#7a90b0"/>
<path d="M877.42 1132.75L875.66 1096.56L961.83 1097.54L963.09 1123.39Z" fill="#a0a0a0"/>
<path d="M963.09 1123.39L961.83 1097.54L1048.01 1098.53L1048.76 1114.02Z" fill="#2b54b0"/>
<path d="M186.26 1088.69L194.78 969.86L280.22 981.18L272.44 1089.67Z" fill="#2b54b0"/>
<path d="M272.44 1089.67L280.22 981.18L365.65 992.5L358.61 1090.66Z" fill="#2b54b0"/>
<path d="M358.61 1090.66L365.65 992.5L451.08 1003.82L444.79 1091.64Z" fill="#a1afaf"/>
<path d="M444.79 1091.64L451.08 1003.82L536.52 1015.14L530.96 1092.62Z" fill="#db5141"/>
<path d="M530.96 1092.62L536.52 1015.14L621.95 1026.46L617.14 1093.61Z" fill="#2b54b0"/>
<path d="M617.14 1093.61L621.95 1026.46L707.38 1037.78L703.31 1094.59Z" fill="#2b54b0"/>
<path d="M703.31 1094.59L707.38 1037.78L792.82 1049.1L789.49 1095.58Z" fill="#2b54b0"/>
<path d="M789.49 1095.58L792.82 1049.1L878.25 1060.42L875.66 1096.56Z" fill="#7a90b0"/>
<path d="M875.66 1096.56L878.25 1060.42L963.68 1071.74L961.83 1097.54Z" fill="#2b54b0"/>
<path d="M961.83 1097.54L963.68 1071.74L1049.12 1083.06L1048.01 1098.53Z" fill="#2b54b0"/>
<path d="M194.78 969.86L217.5 852.92L300.96 874.41L280.22 981.18Z" fill="#2b54b0"/>
<path d="M280.22 981.18L300.96 874.41L384.42 895.9L365.65 992.5Z" fill="#2b54b0"/>
<path d="M365.65 992.5L384.42 895.9L467.87 917.39L451.08 1003.82Z" fill="#c9cdaf"/>
<path d="M451.08 1003.82L467.87 917.39L551.33 938.88L536.52 1015.14Z" fill="#e0785d"/>
<path d="M536.52 1015.14L551.33 938.88L634.79 960.37L621.95 1026.46Z" fill="#2b54b0"/>
<path d="M621.95 1026.46L634.79 960.37L718.25 981.86L707.38 1037.78Z" fill="#2b54b0"/>
<path d="M707.38 1037.78L718.25 981.86L801.7 1003.36L792.82 1049.1Z" fill="#2b54b0"/>
<path d="M792.82 1049.1L801.7 1003.36L885.16 1024.85L878.25 1060.42Z" fill="#7a90b0"/>
<path d="M878.25 1060.42L885.16 1024.85L968.62 1046.34L963.68 1071.74Z" fill="#2b54b0"/>
<path d="M963.68 1071.74L968.62 1046.34L1052.08 1067.83L1049.12 1083.06Z" fill="#2b54b0"/>
<path d="M217.5 852.92L254.09 739.54L334.37 770.9L300.96 874.41Z" fill="#2b54b0"/>
<path d="M300.96 874.41L334.37 770.9L414.64 802.25L384.42 895.9Z" fill="#2b54b0"/>
<path d="M384.42 895.9L414.64 802.25L494.92 833.6L467.87 917.39Z" fill="#e0785d"/>
<path d="M467.87 917.39L494.92 833.6L575.19 864.95L551.33 938.88Z" fill="#a0a0a0"/>
<path d="M551.33 938.88L575.19 864.95L655.47 896.31L634.79 960.37Z" fill="#2b54b0"/>
<path d="M634.79 960.37L655.47 896.31L735.74 927.66L718.25 981.86Z" fill="#2b54b0"/>
<path d="M718.25 981.86L735.74 927.66L816.02 959.01L801.7 1003.36Z" fill="#2b54b0"/>
<path d="M801.7 1003.36L816.02 959.01L896.29 990.36L885.16 1024.85Z" fill="#c9cdaf"/>
<path d="M885.16 1024.85L896.29 990.36L976.57 1021.72L968.62 1046.34Z" fill="#2b54b0"/>
<path d="M968.62 1046.34L976.57 1021.72L1056.84 1053.07L1052.08 1067.83Z" fill="#2b54b0"/>
<path d="M254.09 739.54L304.03 631.38L379.96 672.14L334.37 770.9Z" fill="#2b54b0"/>
<path d="M334.37 770.9L379.96 672.14L455.89 712.9L414.64 802.25Z" fill="#2b54b0"/>
<path d="M414.64 802.25L455.89 712.9L531.82 753.66L494.92 833.6Z" fill="#a1afaf"/>
<path d="M494.92 833.6L531.82 753.66L607.75 794.42L575.19 864.95Z" fill="#d62b26"/>
<path d="M575.19 864.95L607.75 794.42L683.68 835.18L655.47 896.31Z" fill="#2b54b0"/>
<path d="M655.47 896.31L683.68 835.18L759.62 875.95L735.74 927.66Z" fill="#2b54b0"/>
<path d="M735.74 927.66L759.62 875.95L835.55 916.71L816.02 959.01Z" fill="#2b54b0"/>
<path d="M816.02 959.01L835.55 916.71L911.48 957.47L896.29 990.36Z" fill="#7a90b0"/>
<path d="M896.29 990.36L911.48 957.47L987.41 998.23L976.57 1021.72Z" fill="#2b54b0"/>
<path d="M976.57 1021.72L987.41 998.23L1063.34 1038.99L1056.84 1053.07Z" fill="#2b54b0"/>
<path d="M304.03 631.38L366.58 530L437.07 579.57L379.96 672.14Z" fill="#2b54b0"/>
<path d="M379.96 672.14L437.07 579.57L507.56 629.15L455.89 712.9Z" fill="#2b54b0"/>
<path d="M455.89 712.9L507.56 629.15L578.05 678.73L531.82 753.66Z" fill="#2b54b0"/>
<path d="M531.82 753.66L578.05 678.73L648.54 728.31L607.75 794.42Z" fill="#c9cdaf"/>
<path d="M607.75 794.42L648.54 728.31L719.03 777.89L683.68 835.18Z" fill="#e0785d"/>
<path d="M683.68 835.18L719.03 777.89L789.52 827.47L759.62 875.95Z" fill="#2b54b0"/>
<path d="M759.62 875.95L789.52 827.47L860.01 877.05L835.55 916.71Z" fill="#2b54b0"/>
<path d="M835.55 916.71L860.01 877.05L930.5 926.63L911.48 957.47Z" fill="#2b54b0"/>
<path d="M911.48 957.47L930.5 926.63L1000.99 976.21L987.41 998.23Z" fill="#2b54b0"/>
<path d="M987.41 998.23L1000.99 976.21L1071.49 1025.79L1063.34 1038.99Z" fill="#7a90b0"/>
<path d="M366.58 530L440.85 436.85L504.88 494.53L437.07 579.57Z" fill="#2b54b0"/>
<path d="M437.07 579.57L504.88 494.53L568.91 552.21L507.56 629.15Z" fill="#2b54b0"/>
<path d="M507.56 629.15L568.91 552.21L632.94 609.89L578.05 678.73Z" fill="#a0a0a0"/>
<path d="M578.05 678.73L632.94 609.89L696.97 667.57L648.54 728.31Z" fill="#d62b26"/>
<path d="M648.54 728.31L696.97 667.57L761 725.25L719.03 777.89Z" fill="#2b54b0"/>
<path d="M719.03 777.89L761 725.25L825.03 782.94L789.52 827.47Z" fill="#2b54b0"/>
<path d="M789.52 827.47L825.03 782.94L889.06 840.62L860.01 877.05Z" fill="#2b54b0"/>
<path d="M860.01 877.05L889.06 840.62L953.09 898.3L930.5 926.63Z" fill="#2b54b0"/>
<path d="M930.5 926.63L953.09 898.3L1017.12 955.98L1000.99 976.21Z" fill="#2b54b0"/>
<path d="M1000.99 976.21L1017.12 955.98L1081.15 1013.66L1071.49 1025.79Z" fill="#2b54b0"/>
<path d="M440.85 436.85L525.76 353.29L582.41 418.24L504.88 494.53Z" fill="#2b54b0"/>
<path d="M504.88 494.53L582.41 418.24L639.05 483.19L568.91 552.21Z" fill="#2b54b0"/>
<path d="M568.91 552.21L639.05 483.19L695.7 548.14L632.94 609.89Z" fill="#ebc594"/>
<path d="M632.94 609.89L695.7 548.14L752.34 613.09L696.97 667.57Z" fill="#e69e78"/>
<path d="M696.97 667.57L752.34 613.09L808.99 678.04L761 725.25Z" fill="#2b54b0"/>
<path d="M761 725.25L808.99 678.04L865.63 742.98L825.03 782.94Z" fill="#2b54b0"/>
<path d="M825.03 782.94L865.63 742.98L922.28 807.93L889.06 840.62Z" fill="#2b54b0"/>
<path d="M889.06 840.62L922.28 807.93L978.92 872.88L953.09 898.3Z" fill="#a0a0a0"/>
<path d="M953.09 898.3L978.92 872.88L1035.57 937.83L1017.12 955.98Z" fill="#2b54b0"/>
<path d="M1017.12 955.98L1035.57 937.83L1092.21 1002.78L1081.15 1013.66Z" fill="#2b54b0"/>
<path d="M525.76 353.29L620.09 280.53L668.53 351.8L582.41 418.24Z" fill="#2b54b0"/>
<path d="M582.41 418.24L668.53 351.8L716.97 423.08L639.05 483.19Z" fill="#c9cdaf"/>
<path d="M639.05 483.19L716.97 423.08L765.41 494.36L695.7 548.14Z" fill="#2b54b0"/>
<path d="M695.7 548.14L765.41 494.36L813.85 565.64L752.34 613.09Z" fill="#a0a0a0"/>
<path d="M752.34 613.09L813.85 565.64L862.29 636.92L808.99 678.04Z" fill="#a1afaf"/>
<path d="M808.99 678.04L862.29 636.92L910.73 708.19L865.63 742.98Z" fill="#6681b0"/>
<path d="M865.63 742.98L910.73 708.19L959.17 779.47L922.28 807.93Z" fill="#7a90b0"/>
<path d="M922.28 807.93L959.17 779.47L1007.61 850.75L978.92 872.88Z" fill="#2b54b0"/>
<path d="M978.92 872.88L1007.61 850.75L1056.05 922.03L1035.57 937.83Z" fill="#2b54b0"/>
<path d="M1035.57 937.83L1056.05 922.03L1104.49 993.31L1092.21 1002.78Z" fill="#a0a0a0"/>
<path d="M620.09 280.53L722.47 219.61L762.01 296.19L668.53 351.8Z" fill="#2b54b0"/>
<path d="M668.53 351.8L762.01 296.19L801.54 372.76L716.97 423.08Z" fill="#a0a0a0"/>
<path d="M716.97 423.08L801.54 372.76L841.08 449.34L765.41 494.36Z" fill="#7a90b0"/>
<path d="M765.41 494.36L841.08 449.34L880.61 525.92L813.85 565.64Z" fill="#f0ebaf"/>
<path d="M813.85 565.64L880.61 525.92L920.15 602.49L862.29 636.92Z" fill="#2b54b0"/>
<path d="M862.29 636.92L920.15 602.49L959.68 679.07L910.73 708.19Z" fill="#a0a0a0"/>
<path d="M910.73 708.19L959.68 679.07L999.22 755.65L959.17 779.47Z" fill="#c9cdaf"/>
<path d="M959.17 779.47L999.22 755.65L1038.75 832.22L1007.61 850.75Z" fill="#2b54b0"/>
<path d="M1007.61 850.75L1038.75 832.22L1078.29 908.8L1056.05 922.03Z" fill="#2b54b0"/>
<path d="M1056.05 922.03L1078.29 908.8L1117.82 985.38L1104.49 993.31Z" fill="#7a90b0"/>
<path d="M722.47 219.61L831.42 171.42L861.48 252.19L762.01 296.19Z" fill="#2b54b0"/>
<path d="M762.01 296.19L861.48 252.19L891.54 332.96L801.54 372.76Z" fill="#2b54b0"/>
<path d="M801.54 372.76L891.54 332.96L921.6 413.72L841.08 449.34Z" fill="#f0ebaf"/>
<path d="M841.08 449.34L921.6 413.72L951.65 494.49L880.61 525.92Z" fill="#f0ebaf"/>
<path d="M880.61 525.92L951.65 494.49L981.71 575.26L920.15 602.49Z" fill="#2b54b0"/>
<path d="M920.15 602.49L981.71 575.26L1011.77 656.03L959.68 679.07Z" fill="#a0a0a0"/>
<path d="M959.68 679.07L1011.77 656.03L1041.83 736.8L999.22 755.65Z" fill="#a0a0a0"/>
<path d="M999.22 755.65L1041.83 736.8L1071.89 817.57L1038.75 832.22Z" fill="#7a90b0"/>
<path d="M1038.75 832.22L1071.89 817.57L1101.95 898.33L1078.29 908.8Z" fill="#2b54b0"/>
<path d="M1078.29 908.8L1101.95 898.33L1132.01 979.1L1117.82 985.38Z" fill="#2b54b0"/>
<path d="M831.42 171.42L945.37 136.66L965.51 220.45L861.48 252.19Z" fill="#2b54b0"/>
<path d="M861.48 252.19L965.51 220.45L985.66 304.24L891.54 332.96Z" fill="#2b54b0"/>
<path d="M891.54 332.96L985.66 304.24L1005.81 388.03L921.6 413.72Z" fill="#e0785d"/>
<path d="M921.6 413.72L1005.81 388.03L1025.96 471.82L951.65 494.49Z" fill="#a1afaf"/>
<path d="M951.65 494.49L1025.96 471.82L1046.1 555.62L981.71 575.26Z" fill="#a0a0a0"/>
<path d="M981.71 575.26L1046.1 555.62L1066.25 639.41L1011.77 656.03Z" fill="#2b54b0"/>
<path d="M1011.77 656.03L1066.25 639.41L1086.4 723.2L1041.83 736.8Z" fill="#a0a0a0"/>
<path d="M1041.83 736.8L1086.4 723.2L1106.55 806.99L1071.89 817.57Z" fill="#2b54b0"/>
<path d="M1071.89 817.57L1106.55 806.99L1126.69 890.78L1101.95 898.33Z" fill="#2b54b0"/>
<path d="M1101.95 898.33L1126.69 890.78L1146.84 974.57L1132.01 979.1Z" fill="#a0a0a0"/>
</g>
<path d="M1270 1031.2L1278.7 1024.8M1277.6 1042.9L1287 1037.5M1270 1031.2A115.7 115.7 0 0 1 1277.6 1042.9M1264.7 1043L1274 1036.9M1273.5 1059.6L1293.7 1051.2M1264.7 1043A104.6 104.6 0 0 1 1273.5 1059.6M1259.7 1056.3L1269.5 1051.1M1267 1074.5L1298.7 1065.5M1259.7 1056.3A93.5 93.5 0 0 1 1267 1074.5M1253.5 1069.4L1263.8 1065.2M1269.4 1085.5L1302 1080.4M1281.5 1096.3L1303.4 1095.5M1281.2 1108.9L1303 1110.8M1281.5 1096.3A104.6 104.6 0 0 1 1281.2 1108.9M1270.5 1102.3L1281.6 1102.6M1269.4 1085.5A93.5 93.5 0 0 1 1270.5 1102.3M1259.2 1094.6L1270.3 1093.9M1253.5 1069.4A82.4 82.4 0 0 1 1259.2 1094.6M1246.5 1084.2L1257.4 1081.8M1257.7 1116.8L1300.8 1125.8M1255.1 1126.4L1296.8 1140.5M1257.7 1116.8A82.4 82.4 0 0 1 1255.1 1126.4M1245.8 1118.7L1256.5 1121.6M1246.5 1084.2A71.3 71.3 0 0 1 1245.8 1118.7M1237.2 1101.3L1248.3 1101.5M1241.3 1130.8L1291.1 1154.6M1255.9 1150.2L1283.7 1167.9M1249.3 1159.3L1274.8 1180.2M1255.9 1150.2A93.5 93.5 0 0 1 1249.3 1159.3M1243.8 1148.3L1252.7 1154.8M1241.7 1167.5L1264.5 1191.4M1233.1 1174.8L1252.9 1201.2M1241.7 1167.5A93.5 93.5 0 0 1 1233.1 1174.8M1230.3 1162.8L1237.5 1171.3M1243.8 1148.3A82.4 82.4 0 0 1 1230.3 1162.8M1229.3 1148.4L1237.5 1156M1241.3 1130.8A71.3 71.3 0 0 1 1229.3 1148.4M1226.8 1133.8L1236 1140M1237.2 1101.3A60.2 60.2 0 0 1 1226.8 1133.8M1223.8 1114.9L1234.4 1118.3M1201.5 1142.5L1240.2 1209.6M1223.8 1114.9A49.1 49.1 0 0 1 1201.5 1142.5M1206.6 1123.8L1215.2 1130.8M1205 1165.6L1226.6 1216.4M1196.9 1168.5L1212.3 1221.5M1205 1165.6A71.3 71.3 0 0 1 1196.9 1168.5M1197.2 1156.7L1201 1167.2M1188.5 1170.4L1197.4 1224.8M1180 1171.2L1182.3 1226.4M1188.5 1170.4A71.3 71.3 0 0 1 1180 1171.2M1183.1 1159.9L1184.3 1170.9M1197.2 1156.7A60.2 60.2 0 0 1 1183.1 1159.9M1187.8 1147.9L1190.3 1158.7M1171.4 1171.1L1167.1 1226.1M1162.9 1169.9L1152 1224M1171.4 1171.1A71.3 71.3 0 0 1 1162.9 1169.9M1168.7 1159.6L1167.2 1170.6M1154.6 1167.7L1137.3 1220.1M1142 1174.6L1123.2 1214.5M1133.3 1169.8L1109.9 1207.2M1142 1174.6A82.4 82.4 0 0 1 1133.3 1169.8M1142.9 1162.6L1137.5 1172.3M1154.6 1167.7A71.3 71.3 0 0 1 1142.9 1162.6M1153 1155.2L1148.6 1165.4M1168.7 1159.6A60.2 60.2 0 0 1 1153 1155.2M1163.7 1147.3L1160.7 1158M1187.8 1147.9A49.1 49.1 0 0 1 1163.7 1147.3M1176 1138L1175.7 1149.1M1132.2 1155.4L1097.5 1198.4M1125.8 1149.7L1086.2 1188.1M1132.2 1155.4A71.3 71.3 0 0 1 1125.8 1149.7M1136.4 1144.5L1128.9 1152.7M1129.1 1136.4L1076.3 1176.6M1136.4 1144.5A60.2 60.2 0 0 1 1129.1 1136.4M1140.8 1133.1L1132.6 1140.6M1125.1 1130.4L1067.9 1163.9M1070.9 1146.1L1061 1150.4M1066.1 1133L1055.8 1136.1M1070.9 1146.1A115.7 115.7 0 0 1 1066.1 1133M1078.7 1135.8L1068.3 1139.6M1062.9 1119.5L1052.3 1121.3M1061.4 1105.6L1050.7 1106.2M1062.9 1119.5A115.7 115.7 0 0 1 1061.4 1105.6M1073 1111.4L1062 1112.6M1078.7 1135.8A104.6 104.6 0 0 1 1073 1111.4M1085.9 1121.2L1075.1 1123.8M1083.7 1093.3L1050.8 1091M1085.9 1121.2A93.5 93.5 0 0 1 1083.7 1093.3M1094.9 1106.5L1083.8 1107.4M1096.1 1084.3L1052.8 1075.9M1094.9 1106.5A82.4 82.4 0 0 1 1096.1 1084.3M1105.8 1096L1094.7 1095.3M1077.5 1067.9L1056.6 1061.1M1082 1056.2L1062.1 1047M1077.5 1067.9A104.6 104.6 0 0 1 1082 1056.2M1089.9 1066L1079.6 1061.9M1088 1045.1L1069.3 1033.6M1095.2 1034.8L1078.1 1021.1M1088 1045.1A104.6 104.6 0 0 1 1095.2 1034.8M1100.5 1046.2L1091.4 1039.8M1089.9 1066A93.5 93.5 0 0 1 1100.5 1046.2M1104.4 1061L1094.6 1055.8M1103.6 1025.4L1088.3 1009.8M1113.1 1017.2L1099.7 999.8M1103.6 1025.4A104.6 104.6 0 0 1 1113.1 1017.2M1115.5 1029.5L1108.2 1021.2M1123.5 1010.1L1112.3 991.3M1130.2 994.2L1125.8 984.3M1143.2 989.3L1140.1 979M1130.2 994.2A115.7 115.7 0 0 1 1143.2 989.3M1140.5 1002L1136.6 991.6M1123.5 1010.1A104.6 104.6 0 0 1 1140.5 1002M1136.6 1015.7L1131.8 1005.7M1115.5 1029.5A93.5 93.5 0 0 1 1136.6 1015.7M1131.7 1031.2L1125.6 1021.9M1104.4 1061A82.4 82.4 0 0 1 1131.7 1031.2M1124.4 1051.9L1116.2 1044.4M1105.8 1096A71.3 71.3 0 0 1 1124.4 1051.9M1121.5 1076.6L1111.3 1072.3M1125.1 1130.4A60.2 60.2 0 0 1 1121.5 1076.6M1128 1103.2L1116.9 1103.9M1140.8 1133.1A49.1 49.1 0 0 1 1128 1103.2M1142 1114.9L1131.8 1119.3M1206.6 1123.8A38 38 0 0 1 1142 1114.9M1157.6 1066.6L1173.2 1137.8" fill="none" stroke="#828282" stroke-width="3.4" stroke-linecap="square" stroke-linejoin="miter"/>
<g class="c">
<text transform="translate(1946.07 531.26) rotate(-36.48) scale(1,1.04)" y="10.53">0</text>
<text transform="translate(1876.5 582.71) rotate(-36.48) scale(1,1.04)" y="10.53">2</text>
<text transform="translate(1807.66 633.62) rotate(-36.48) scale(1,1.04)" y="10.53">8</text>
<text transform="translate(1738.2 684.99) rotate(-36.48) scale(1,1.04)" y="10.53">0</text>
<text transform="translate(1669.12 736.07) rotate(-36.48) scale(1,1.04)" y="10.53">3</text>
<text transform="translate(1599.34 787.68) rotate(-36.48) scale(1,1.04)" y="10.53">2</text>
<text transform="translate(1530.33 838.71) rotate(-36.48) scale(1,1.04)" y="10.53">0</text>
<text transform="translate(1461.03 889.95) rotate(-36.48) scale(1,1.04)" y="10.53">0</text>
<text transform="translate(1391.74 941.2) rotate(-36.48) scale(1,1.04)" y="10.53">0</text>
<text transform="translate(1322.45 992.44) rotate(-36.48) scale(1,1.04)" y="10.53">0</text>
<text transform="translate(2008.77 627.68) rotate(-29.59) scale(1,1.04)" y="10.53">0</text>
<text transform="translate(1933.53 670.4) rotate(-29.59) scale(1,1.04)" y="10.53">2</text>
<text transform="translate(1859.07 712.68) rotate(-29.59) scale(1,1.04)" y="10.53">8</text>
<text transform="translate(1783.95 755.34) rotate(-29.59) scale(1,1.04)" y="10.53">0</text>
<text transform="translate(1708.71 798.07) rotate(-29.59) scale(1,1.04)" y="10.53">2</text>
<text transform="translate(1633.77 840.62) rotate(-29.59) scale(1,1.04)" y="10.53">2</text>
<text transform="translate(1559.13 883.01) rotate(-29.59) scale(1,1.04)" y="10.53">0</text>
<text transform="translate(1482.99 926.25) rotate(-29.59) scale(1,1.04)" y="10.53">1</text>
<text transform="translate(1409.25 968.12) rotate(-29.59) scale(1,1.04)" y="10.53">0</text>
<text transform="translate(1334.31 1010.67) rotate(-29.59) scale(1,1.04)" y="10.53">0</text>
<text transform="translate(2059.45 730.92) rotate(-22.7) scale(1,1.04)" y="10.53">0</text>
<text transform="translate(1979.62 764.31) rotate(-22.7) scale(1,1.04)" y="10.53">2</text>
<text transform="translate(1900.63 797.35) rotate(-22.7) scale(1,1.04)" y="10.53">8</text>
<text transform="translate(1820.93 830.68) rotate(-22.7) scale(1,1.04)" y="10.53">0</text>
<text transform="translate(1741.1 864.07) rotate(-22.7) scale(1,1.04)" y="10.53">2</text>
<text transform="translate(1661.6 897.32) rotate(-22.7) scale(1,1.04)" y="10.53">2</text>
<text transform="translate(1582.41 930.44) rotate(-22.7) scale(1,1.04)" y="10.53">0</text>
<text transform="translate(1501.63 964.23) rotate(-22.7) scale(1,1.04)" y="10.53">1</text>
<text transform="translate(1423.4 996.94) rotate(-22.7) scale(1,1.04)" y="10.53">0</text>
<text transform="translate(1343.89 1030.2) rotate(-22.7) scale(1,1.04)" y="10.53">0</text>
<text transform="translate(2097.37 839.5) rotate(-15.8) scale(1,1.04)" y="10.53">0</text>
<text transform="translate(2014.44 862.97) rotate(-15.8) scale(1,1.04)" y="10.53">0</text>
<text transform="translate(1931.52 886.44) rotate(-15.8) scale(1,1.04)" y="10.53">0</text>
<text transform="translate(1857.57 907.37) rotate(-15.8) scale(1,1.04)" y="10.53">14</text>
<text transform="translate(1765.68 933.38) rotate(-15.8) scale(1,1.04)" y="10.53">0</text>
<text transform="translate(1682.76 956.85) rotate(-15.8) scale(1,1.04)" y="10.53">0</text>
<text transform="translate(1599.83 980.32) rotate(-15.8) scale(1,1.04)" y="10.53">0</text>
<text transform="translate(1516.91 1003.79) rotate(-15.8) scale(1,1.04)" y="10.53">0</text>
<text transform="translate(1433.99 1027.26) rotate(-15.8) scale(1,1.04)" y="10.53">0</text>
<text transform="translate(1351.07 1050.73) rotate(-15.8) scale(1,1.04)" y="10.53">0</text>
<text transform="translate(2122.25 951.8) rotate(-8.91) scale(1,1.04)" y="10.53">5</text>
<text transform="translate(2036.84 965.19) rotate(-8.91) scale(1,1.04)" y="10.53">0</text>
<text transform="translate(1951.7 978.54) rotate(-8.91) scale(1,1.04)" y="10.53">0</text>
<text transform="translate(1866.6 991.88) rotate(-8.91) scale(1,1.04)" y="10.53">7</text>
<text transform="translate(1781.42 1005.24) rotate(-8.91) scale(1,1.04)" y="10.53">0</text>
<text transform="translate(1696.28 1018.59) rotate(-8.91) scale(1,1.04)" y="10.53">0</text>
<text transform="translate(1610.8 1031.99) rotate(-8.91) scale(1,1.04)" y="10.53">2</text>
<text transform="translate(1526 1045.28) rotate(-8.91) scale(1,1.04)" y="10.53">0</text>
<text transform="translate(1440.86 1058.63) rotate(-8.91) scale(1,1.04)" y="10.53">0</text>
<text transform="translate(1355.72 1071.98) rotate(-8.91) scale(1,1.04)" y="10.53">0</text>
<text transform="translate(2131.55 1066.38) rotate(-2.02) scale(1,1.04)" y="10.53">1</text>
<text transform="translate(2047.07 1069.36) rotate(-2.02) scale(1,1.04)" y="10.53">3</text>
<text transform="translate(1960.68 1072.4) rotate(-2.02) scale(1,1.04)" y="10.53">0</text>
<text transform="translate(1874.82 1075.42) rotate(-2.02) scale(1,1.04)" y="10.53">5</text>
<text transform="translate(1788.42 1078.47) rotate(-2.02) scale(1,1.04)" y="10.53">0</text>
<text transform="translate(1701.95 1081.51) rotate(-2.02) scale(1,1.04)" y="10.53">2</text>
<text transform="translate(1615.82 1084.54) rotate(-2.02) scale(1,1.04)" y="10.53">2</text>
<text transform="translate(1528.66 1087.61) rotate(-2.02) scale(1,1.04)" y="10.53">1</text>
<text transform="translate(1443.92 1090.6) rotate(-2.02) scale(1,1.04)" y="10.53">0</text>
<text transform="translate(1357.79 1093.63) rotate(-2.02) scale(1,1.04)" y="10.53">0</text>
<text transform="translate(2128.68 1181.19) rotate(4.88) scale(1,1.04)" y="10.53">1</text>
<text transform="translate(2043.85 1173.95) rotate(4.88) scale(1,1.04)" y="10.53">2</text>
<text transform="translate(1958.33 1166.66) rotate(4.88) scale(1,1.04)" y="10.53">0</text>
<text transform="translate(1872.11 1159.3) rotate(4.88) scale(1,1.04)" y="10.53">2</text>
<text transform="translate(1785.21 1151.89) rotate(4.88) scale(1,1.04)" y="10.53">1</text>
<text transform="translate(1700.37 1144.65) rotate(4.88) scale(1,1.04)" y="10.53">2</text>
<text transform="translate(1614.79 1137.35) rotate(4.88) scale(1,1.04)" y="10.53">4</text>
<text transform="translate(1527.61 1129.91) rotate(4.88) scale(1,1.04)" y="10.53">1</text>
<text transform="translate(1443.12 1122.7) rotate(4.88) scale(1,1.04)" y="10.53">0</text>
<text transform="translate(1355.87 1115.26) rotate(4.88) scale(1,1.04)" y="10.53">1</text>
<text transform="translate(2113.41 1295.11) rotate(11.77) scale(1,1.04)" y="10.53">0</text>
<text transform="translate(2028.7 1277.46) rotate(11.77) scale(1,1.04)" y="10.53">2</text>
<text transform="translate(1944.63 1259.94) rotate(11.77) scale(1,1.04)" y="10.53">6</text>
<text transform="translate(1860.31 1242.37) rotate(11.77) scale(1,1.04)" y="10.53">0</text>
<text transform="translate(1776.2 1224.85) rotate(11.77) scale(1,1.04)" y="10.53">3</text>
<text transform="translate(1691.23 1207.14) rotate(11.77) scale(1,1.04)" y="10.53">2</text>
<text transform="translate(1607.2 1189.63) rotate(11.77) scale(1,1.04)" y="10.53">0</text>
<text transform="translate(1522.49 1171.99) rotate(11.77) scale(1,1.04)" y="10.53">2</text>
<text transform="translate(1438.47 1154.48) rotate(11.77) scale(1,1.04)" y="10.53">0</text>
<text transform="translate(1354.1 1136.9) rotate(11.77) scale(1,1.04)" y="10.53">0</text>
<text transform="translate(2081.92 1405.64) rotate(18.66) scale(1,1.04)" y="10.53">1</text>
<text transform="translate(2001.52 1378.48) rotate(18.66) scale(1,1.04)" y="10.53">4</text>
<text transform="translate(1919.93 1350.93) rotate(18.66) scale(1,1.04)" y="10.53">0</text>
<text transform="translate(1836.97 1322.91) rotate(18.66) scale(1,1.04)" y="10.53">1</text>
<text transform="translate(1755.32 1295.33) rotate(18.66) scale(1,1.04)" y="10.53">1</text>
<text transform="translate(1675.02 1268.21) rotate(18.66) scale(1,1.04)" y="10.53">7</text>
<text transform="translate(1593.34 1240.62) rotate(18.66) scale(1,1.04)" y="10.53">0</text>
<text transform="translate(1511.69 1213.04) rotate(18.66) scale(1,1.04)" y="10.53">0</text>
<text transform="translate(1430.04 1185.47) rotate(18.66) scale(1,1.04)" y="10.53">0</text>
<text transform="translate(1348.39 1157.89) rotate(18.66) scale(1,1.04)" y="10.53">0</text>
<text transform="translate(2039.94 1512.64) rotate(25.56) scale(1,1.04)" y="10.53">0</text>
<text transform="translate(1961.88 1475.31) rotate(25.56) scale(1,1.04)" y="10.53">2</text>
<text transform="translate(1884.44 1438.28) rotate(25.56) scale(1,1.04)" y="10.53">0</text>
<text transform="translate(1806.38 1400.95) rotate(25.56) scale(1,1.04)" y="10.53">2</text>
<text transform="translate(1728.91 1363.91) rotate(25.56) scale(1,1.04)" y="10.53">6</text>
<text transform="translate(1651.2 1326.75) rotate(25.56) scale(1,1.04)" y="10.53">0</text>
<text transform="translate(1572.2 1288.97) rotate(25.56) scale(1,1.04)" y="10.53">1</text>
<text transform="translate(1495.39 1252.24) rotate(25.56) scale(1,1.04)" y="10.53">2</text>
<text transform="translate(1416.7 1214.62) rotate(25.56) scale(1,1.04)" y="10.53">1</text>
<text transform="translate(1340.2 1178.04) rotate(25.56) scale(1,1.04)" y="10.53">0</text>
<text transform="translate(1984.18 1613.22) rotate(32.45) scale(1,1.04)" y="10.53">0</text>
<text transform="translate(1911.45 1566.98) rotate(32.45) scale(1,1.04)" y="10.53">0</text>
<text transform="translate(1838.96 1520.89) rotate(32.45) scale(1,1.04)" y="10.53">5</text>
<text transform="translate(1764.84 1473.76) rotate(32.45) scale(1,1.04)" y="10.53">1</text>
<text transform="translate(1692.11 1427.52) rotate(32.45) scale(1,1.04)" y="10.53">1</text>
<text transform="translate(1620.56 1382.02) rotate(32.45) scale(1,1.04)" y="10.53">0</text>
<text transform="translate(1547.83 1335.78) rotate(32.45) scale(1,1.04)" y="10.53">0</text>
<text transform="translate(1475.07 1289.52) rotate(32.45) scale(1,1.04)" y="10.53">6</text>
<text transform="translate(1402.38 1243.3) rotate(32.45) scale(1,1.04)" y="10.53">0</text>
<text transform="translate(1328.49 1196.32) rotate(32.45) scale(1,1.04)" y="10.53">1</text>
<text transform="translate(1916.75 1706.39) rotate(39.34) scale(1,1.04)" y="10.53">0</text>
<text transform="translate(1850.1 1651.76) rotate(39.34) scale(1,1.04)" y="10.53">0</text>
<text transform="translate(1783.41 1597.09) rotate(39.34) scale(1,1.04)" y="10.53">6</text>
<text transform="translate(1717 1542.66) rotate(39.34) scale(1,1.04)" y="10.53">3</text>
<text transform="translate(1649.08 1486.98) rotate(39.34) scale(1,1.04)" y="10.53">1</text>
<text transform="translate(1583.5 1433.22) rotate(39.34) scale(1,1.04)" y="10.53">0</text>
<text transform="translate(1516.85 1378.59) rotate(39.34) scale(1,1.04)" y="10.53">0</text>
<text transform="translate(1449.93 1323.73) rotate(39.34) scale(1,1.04)" y="10.53">2</text>
<text transform="translate(1382.48 1268.44) rotate(39.34) scale(1,1.04)" y="10.53">1</text>
<text transform="translate(1315.83 1213.81) rotate(39.34) scale(1,1.04)" y="10.53">1</text>
<text transform="translate(1838.62 1790.79) rotate(46.24) scale(1,1.04)" y="10.53">0</text>
<text transform="translate(1779.01 1728.55) rotate(46.24) scale(1,1.04)" y="10.53">0</text>
<text transform="translate(1719.4 1666.32) rotate(46.24) scale(1,1.04)" y="10.53">0</text>
<text transform="translate(1666.19 1610.76) rotate(46.24) scale(1,1.04)" y="10.53">12</text>
<text transform="translate(1599.22 1540.84) rotate(46.24) scale(1,1.04)" y="10.53">1</text>
<text transform="translate(1540.57 1479.6) rotate(46.24) scale(1,1.04)" y="10.53">0</text>
<text transform="translate(1480.96 1417.36) rotate(46.24) scale(1,1.04)" y="10.53">0</text>
<text transform="translate(1421.35 1355.12) rotate(46.24) scale(1,1.04)" y="10.53">0</text>
<text transform="translate(1361.74 1292.89) rotate(46.24) scale(1,1.04)" y="10.53">0</text>
<text transform="translate(1301.17 1229.65) rotate(46.24) scale(1,1.04)" y="10.53">1</text>
<text transform="translate(1750.93 1865.21) rotate(53.13) scale(1,1.04)" y="10.53">0</text>
<text transform="translate(1699.01 1795.99) rotate(53.13) scale(1,1.04)" y="10.53">2</text>
<text transform="translate(1646.68 1726.21) rotate(53.13) scale(1,1.04)" y="10.53">1</text>
<text transform="translate(1595.77 1658.34) rotate(53.13) scale(1,1.04)" y="10.53">6</text>
<text transform="translate(1544.09 1589.44) rotate(53.13) scale(1,1.04)" y="10.53">0</text>
<text transform="translate(1492.17 1520.21) rotate(53.13) scale(1,1.04)" y="10.53">2</text>
<text transform="translate(1439.84 1450.44) rotate(53.13) scale(1,1.04)" y="10.53">1</text>
<text transform="translate(1388.75 1382.33) rotate(53.13) scale(1,1.04)" y="10.53">2</text>
<text transform="translate(1337.25 1313.66) rotate(53.13) scale(1,1.04)" y="10.53">0</text>
<text transform="translate(1285.54 1244.72) rotate(53.13) scale(1,1.04)" y="10.53">0</text>
<text transform="translate(1654.25 1927.36) rotate(60.02) scale(1,1.04)" y="10.53">1</text>
<text transform="translate(1611.88 1853.91) rotate(60.02) scale(1,1.04)" y="10.53">0</text>
<text transform="translate(1568.82 1779.26) rotate(60.02) scale(1,1.04)" y="10.53">0</text>
<text transform="translate(1525.76 1704.61) rotate(60.02) scale(1,1.04)" y="10.53">0</text>
<text transform="translate(1482.83 1630.18) rotate(60.02) scale(1,1.04)" y="10.53">3</text>
<text transform="translate(1439.6 1555.25) rotate(60.02) scale(1,1.04)" y="10.53">4</text>
<text transform="translate(1395.88 1479.45) rotate(60.02) scale(1,1.04)" y="10.53">1</text>
<text transform="translate(1352.82 1404.8) rotate(60.02) scale(1,1.04)" y="10.53">1</text>
<text transform="translate(1310.45 1331.35) rotate(60.02) scale(1,1.04)" y="10.53">0</text>
<text transform="translate(1267.22 1256.4) rotate(60.02) scale(1,1.04)" y="10.53">2</text>
<text transform="translate(1552.04 1979.93) rotate(66.92) scale(1,1.04)" y="10.53">0</text>
<text transform="translate(1518.25 1900.65) rotate(66.92) scale(1,1.04)" y="10.53">0</text>
<text transform="translate(1484.46 1821.37) rotate(66.92) scale(1,1.04)" y="10.53">0</text>
<text transform="translate(1454.33 1750.67) rotate(66.92) scale(1,1.04)" y="10.53">14</text>
<text transform="translate(1416.88 1662.81) rotate(66.92) scale(1,1.04)" y="10.53">0</text>
<text transform="translate(1383.09 1583.54) rotate(66.92) scale(1,1.04)" y="10.53">0</text>
<text transform="translate(1349.3 1504.26) rotate(66.92) scale(1,1.04)" y="10.53">0</text>
<text transform="translate(1315.51 1424.98) rotate(66.92) scale(1,1.04)" y="10.53">0</text>
<text transform="translate(1281.72 1345.7) rotate(66.92) scale(1,1.04)" y="10.53">0</text>
<text transform="translate(1247.93 1266.42) rotate(66.92) scale(1,1.04)" y="10.53">0</text>
<text transform="translate(1443.72 2018.58) rotate(73.81) scale(1,1.04)" y="10.53">0</text>
<text transform="translate(1419.76 1936.07) rotate(73.81) scale(1,1.04)" y="10.53">3</text>
<text transform="translate(1395.65 1853.03) rotate(73.81) scale(1,1.04)" y="10.53">9</text>
<text transform="translate(1371.24 1768.97) rotate(73.81) scale(1,1.04)" y="10.53">1</text>
<text transform="translate(1347.21 1686.21) rotate(73.81) scale(1,1.04)" y="10.53">1</text>
<text transform="translate(1323.57 1604.77) rotate(73.81) scale(1,1.04)" y="10.53">0</text>
<text transform="translate(1299.54 1522.01) rotate(73.81) scale(1,1.04)" y="10.53">0</text>
<text transform="translate(1275.51 1439.25) rotate(73.81) scale(1,1.04)" y="10.53">0</text>
<text transform="translate(1251.47 1356.49) rotate(73.81) scale(1,1.04)" y="10.53">0</text>
<text transform="translate(1227.44 1273.73) rotate(73.81) scale(1,1.04)" y="10.53">0</text>
<text transform="translate(1331.55 2043.96) rotate(80.7) scale(1,1.04)" y="10.53">0</text>
<text transform="translate(1317.4 1957.54) rotate(80.7) scale(1,1.04)" y="10.53">1</text>
<text transform="translate(1303.7 1873.86) rotate(80.7) scale(1,1.04)" y="10.53">0</text>
<text transform="translate(1289.82 1789.08) rotate(80.7) scale(1,1.04)" y="10.53">5</text>
<text transform="translate(1275.79 1703.42) rotate(80.7) scale(1,1.04)" y="10.53">2</text>
<text transform="translate(1261.92 1618.72) rotate(80.7) scale(1,1.04)" y="10.53">0</text>
<text transform="translate(1248 1533.67) rotate(80.7) scale(1,1.04)" y="10.53">0</text>
<text transform="translate(1234.12 1448.89) rotate(80.7) scale(1,1.04)" y="10.53">5</text>
<text transform="translate(1220.15 1363.57) rotate(80.7) scale(1,1.04)" y="10.53">0</text>
<text transform="translate(1206 1277.16) rotate(80.7) scale(1,1.04)" y="10.53">1</text>
<text transform="translate(1217.13 2055.68) rotate(87.6) scale(1,1.04)" y="10.53">0</text>
<text transform="translate(1213.53 1969.84) rotate(87.6) scale(1,1.04)" y="10.53">3</text>
<text transform="translate(1209.9 1883.47) rotate(87.6) scale(1,1.04)" y="10.53">0</text>
<text transform="translate(1206.28 1797.3) rotate(87.6) scale(1,1.04)" y="10.53">4</text>
<text transform="translate(1202.66 1710.92) rotate(87.6) scale(1,1.04)" y="10.53">2</text>
<text transform="translate(1199 1623.78) rotate(87.6) scale(1,1.04)" y="10.53">1</text>
<text transform="translate(1195.44 1539.06) rotate(87.6) scale(1,1.04)" y="10.53">0</text>
<text transform="translate(1191.81 1452.6) rotate(87.6) scale(1,1.04)" y="10.53">2</text>
<text transform="translate(1188.21 1366.85) rotate(87.6) scale(1,1.04)" y="10.53">0</text>
<text transform="translate(1184.58 1280.4) rotate(87.6) scale(1,1.04)" y="10.53">2</text>
<text transform="translate(1102.63 2047.34) rotate(-85.51) scale(1,1.04)" y="10.53">1</text>
<text transform="translate(1108.95 1966.86) rotate(-85.51) scale(1,1.04)" y="10.53">2</text>
<text transform="translate(1115.7 1880.95) rotate(-85.51) scale(1,1.04)" y="10.53">2</text>
<text transform="translate(1122.49 1794.46) rotate(-85.51) scale(1,1.04)" y="10.53">5</text>
<text transform="translate(1129.21 1708.75) rotate(-85.51) scale(1,1.04)" y="10.53">0</text>
<text transform="translate(1135.86 1624.07) rotate(-85.51) scale(1,1.04)" y="10.53">4</text>
<text transform="translate(1142.7 1536.92) rotate(-85.51) scale(1,1.04)" y="10.53">0</text>
<text transform="translate(1149.45 1451) rotate(-85.51) scale(1,1.04)" y="10.53">0</text>
<text transform="translate(1156.19 1365.09) rotate(-85.51) scale(1,1.04)" y="10.53">0</text>
<text transform="translate(1162.93 1279.17) rotate(-85.51) scale(1,1.04)" y="10.53">0</text>
<text transform="translate(988.47 2036.56) rotate(-78.62) scale(1,1.04)" y="10.53">0</text>
<text transform="translate(1005.52 1951.83) rotate(-78.62) scale(1,1.04)" y="10.53">3</text>
<text transform="translate(1022.41 1867.94) rotate(-78.62) scale(1,1.04)" y="10.53">2</text>
<text transform="translate(1039.54 1782.86) rotate(-78.62) scale(1,1.04)" y="10.53">3</text>
<text transform="translate(1057.5 1693.62) rotate(-78.62) scale(1,1.04)" y="10.53">1</text>
<text transform="translate(1073.55 1613.89) rotate(-78.62) scale(1,1.04)" y="10.53">3</text>
<text transform="translate(1090.51 1529.65) rotate(-78.62) scale(1,1.04)" y="10.53">0</text>
<text transform="translate(1107.45 1445.52) rotate(-78.62) scale(1,1.04)" y="10.53">2</text>
<text transform="translate(1124.45 1361.03) rotate(-78.62) scale(1,1.04)" y="10.53">2</text>
<text transform="translate(1141.53 1276.19) rotate(-78.62) scale(1,1.04)" y="10.53">0</text>
<text transform="translate(877.42 2007.16) rotate(-71.72) scale(1,1.04)" y="10.53">0</text>
<text transform="translate(904.45 1925.33) rotate(-71.72) scale(1,1.04)" y="10.53">0</text>
<text transform="translate(931.36 1843.84) rotate(-71.72) scale(1,1.04)" y="10.53">2</text>
<text transform="translate(958.51 1761.63) rotate(-71.72) scale(1,1.04)" y="10.53">9</text>
<text transform="translate(987.12 1674.99) rotate(-71.72) scale(1,1.04)" y="10.53">1</text>
<text transform="translate(1012.55 1597.99) rotate(-71.72) scale(1,1.04)" y="10.53">0</text>
<text transform="translate(1039.46 1516.51) rotate(-71.72) scale(1,1.04)" y="10.53">2</text>
<text transform="translate(1066.59 1434.33) rotate(-71.72) scale(1,1.04)" y="10.53">0</text>
<text transform="translate(1093.62 1352.49) rotate(-71.72) scale(1,1.04)" y="10.53">0</text>
<text transform="translate(1120.64 1270.66) rotate(-71.72) scale(1,1.04)" y="10.53">0</text>
<text transform="translate(770.71 1964.65) rotate(-64.83) scale(1,1.04)" y="10.53">0</text>
<text transform="translate(807.36 1886.65) rotate(-64.83) scale(1,1.04)" y="10.53">0</text>
<text transform="translate(844.01 1808.65) rotate(-64.83) scale(1,1.04)" y="10.53">0</text>
<text transform="translate(880.75 1730.46) rotate(-64.83) scale(1,1.04)" y="10.53">5</text>
<text transform="translate(917.16 1652.98) rotate(-64.83) scale(1,1.04)" y="10.53">2</text>
<text transform="translate(953.97 1574.66) rotate(-64.83) scale(1,1.04)" y="10.53">0</text>
<text transform="translate(990.53 1496.83) rotate(-64.83) scale(1,1.04)" y="10.53">6</text>
<text transform="translate(1027.27 1418.66) rotate(-64.83) scale(1,1.04)" y="10.53">0</text>
<text transform="translate(1063.92 1340.66) rotate(-64.83) scale(1,1.04)" y="10.53">0</text>
<text transform="translate(1100.57 1262.66) rotate(-64.83) scale(1,1.04)" y="10.53">0</text>
<text transform="translate(669.88 1909.63) rotate(-57.94) scale(1,1.04)" y="10.53">0</text>
<text transform="translate(715.62 1836.6) rotate(-57.94) scale(1,1.04)" y="10.53">0</text>
<text transform="translate(761.18 1763.87) rotate(-57.94) scale(1,1.04)" y="10.53">2</text>
<text transform="translate(807.25 1690.32) rotate(-57.94) scale(1,1.04)" y="10.53">3</text>
<text transform="translate(852.67 1617.8) rotate(-57.94) scale(1,1.04)" y="10.53">2</text>
<text transform="translate(898.61 1544.46) rotate(-57.94) scale(1,1.04)" y="10.53">0</text>
<text transform="translate(944.47 1471.24) rotate(-57.94) scale(1,1.04)" y="10.53">5</text>
<text transform="translate(990.1 1398.38) rotate(-57.94) scale(1,1.04)" y="10.53">0</text>
<text transform="translate(1035.85 1325.35) rotate(-57.94) scale(1,1.04)" y="10.53">0</text>
<text transform="translate(1081.4 1252.62) rotate(-57.94) scale(1,1.04)" y="10.53">2</text>
<text transform="translate(576.37 1842.92) rotate(-51.05) scale(1,1.04)" y="10.53">0</text>
<text transform="translate(630.55 1775.9) rotate(-51.05) scale(1,1.04)" y="10.53">0</text>
<text transform="translate(680.99 1713.51) rotate(-51.05) scale(1,1.04)" y="10.53">10</text>
<text transform="translate(738.69 1642.15) rotate(-51.05) scale(1,1.04)" y="10.53">2</text>
<text transform="translate(793.1 1574.85) rotate(-51.05) scale(1,1.04)" y="10.53">0</text>
<text transform="translate(847.28 1507.83) rotate(-51.05) scale(1,1.04)" y="10.53">0</text>
<text transform="translate(901.46 1440.81) rotate(-51.05) scale(1,1.04)" y="10.53">0</text>
<text transform="translate(955.41 1374.08) rotate(-51.05) scale(1,1.04)" y="10.53">2</text>
<text transform="translate(1009.82 1306.78) rotate(-51.05) scale(1,1.04)" y="10.53">0</text>
<text transform="translate(1064.01 1239.76) rotate(-51.05) scale(1,1.04)" y="10.53">0</text>
<text transform="translate(491.55 1765.46) rotate(-44.15) scale(1,1.04)" y="10.53">0</text>
<text transform="translate(553.38 1705.43) rotate(-44.15) scale(1,1.04)" y="10.53">0</text>
<text transform="translate(615.43 1645.19) rotate(-44.15) scale(1,1.04)" y="10.53">7</text>
<text transform="translate(677.05 1585.37) rotate(-44.15) scale(1,1.04)" y="10.53">0</text>
<text transform="translate(738.88 1525.34) rotate(-44.15) scale(1,1.04)" y="10.53">0</text>
<text transform="translate(800.71 1465.31) rotate(-44.15) scale(1,1.04)" y="10.53">0</text>
<text transform="translate(862.55 1405.28) rotate(-44.15) scale(1,1.04)" y="10.53">0</text>
<text transform="translate(924.6 1345.04) rotate(-44.15) scale(1,1.04)" y="10.53">7</text>
<text transform="translate(986.22 1285.22) rotate(-44.15) scale(1,1.04)" y="10.53">0</text>
<text transform="translate(1048.05 1225.19) rotate(-44.15) scale(1,1.04)" y="10.53">0</text>
<text transform="translate(420.68 1675.3) rotate(-37.26) scale(1,1.04)" y="10.53">1</text>
<text transform="translate(489.28 1623.12) rotate(-37.26) scale(1,1.04)" y="10.53">1</text>
<text transform="translate(552.83 1574.78) rotate(-37.26) scale(1,1.04)" y="10.53">4</text>
<text transform="translate(622.12 1522.08) rotate(-37.26) scale(1,1.04)" y="10.53">2</text>
<text transform="translate(695.05 1466.6) rotate(-37.26) scale(1,1.04)" y="10.53">1</text>
<text transform="translate(759.59 1417.51) rotate(-37.26) scale(1,1.04)" y="10.53">0</text>
<text transform="translate(827.89 1365.55) rotate(-37.26) scale(1,1.04)" y="10.53">2</text>
<text transform="translate(896.48 1313.38) rotate(-37.26) scale(1,1.04)" y="10.53">2</text>
<text transform="translate(965.36 1260.98) rotate(-37.26) scale(1,1.04)" y="10.53">0</text>
<text transform="translate(1033.96 1208.81) rotate(-37.26) scale(1,1.04)" y="10.53">0</text>
<text transform="translate(352.71 1582.94) rotate(-30.37) scale(1,1.04)" y="10.53">0</text>
<text transform="translate(427.07 1539.37) rotate(-30.37) scale(1,1.04)" y="10.53">0</text>
<text transform="translate(500.36 1496.44) rotate(-30.37) scale(1,1.04)" y="10.53">4</text>
<text transform="translate(580.18 1449.67) rotate(-30.37) scale(1,1.04)" y="10.53">1</text>
<text transform="translate(650.35 1408.55) rotate(-30.37) scale(1,1.04)" y="10.53">3</text>
<text transform="translate(728.89 1362.54) rotate(-30.37) scale(1,1.04)" y="10.53">1</text>
<text transform="translate(798.54 1321.73) rotate(-30.37) scale(1,1.04)" y="10.53">2</text>
<text transform="translate(872.9 1278.17) rotate(-30.37) scale(1,1.04)" y="10.53">2</text>
<text transform="translate(947.57 1234.42) rotate(-30.37) scale(1,1.04)" y="10.53">0</text>
<text transform="translate(1021.93 1190.85) rotate(-30.37) scale(1,1.04)" y="10.53">0</text>
<text transform="translate(300.71 1480.52) rotate(-23.47) scale(1,1.04)" y="10.53">0</text>
<text transform="translate(379.76 1446.19) rotate(-23.47) scale(1,1.04)" y="10.53">0</text>
<text transform="translate(458.8 1411.87) rotate(-23.47) scale(1,1.04)" y="10.53">0</text>
<text transform="translate(532.26 1379.97) rotate(-23.47) scale(1,1.04)" y="10.53">14</text>
<text transform="translate(616.9 1343.21) rotate(-23.47) scale(1,1.04)" y="10.53">0</text>
<text transform="translate(695.95 1308.89) rotate(-23.47) scale(1,1.04)" y="10.53">0</text>
<text transform="translate(775 1274.56) rotate(-23.47) scale(1,1.04)" y="10.53">0</text>
<text transform="translate(854.05 1240.24) rotate(-23.47) scale(1,1.04)" y="10.53">0</text>
<text transform="translate(933.1 1205.91) rotate(-23.47) scale(1,1.04)" y="10.53">0</text>
<text transform="translate(1012.15 1171.58) rotate(-23.47) scale(1,1.04)" y="10.53">0</text>
<text transform="translate(261.37 1372.59) rotate(-16.58) scale(1,1.04)" y="10.53">0</text>
<text transform="translate(343.62 1348.11) rotate(-16.58) scale(1,1.04)" y="10.53">2</text>
<text transform="translate(426.86 1323.33) rotate(-16.58) scale(1,1.04)" y="10.53">7</text>
<text transform="translate(509.16 1298.82) rotate(-16.58) scale(1,1.04)" y="10.53">0</text>
<text transform="translate(592 1274.16) rotate(-16.58) scale(1,1.04)" y="10.53">3</text>
<text transform="translate(674.01 1249.75) rotate(-16.58) scale(1,1.04)" y="10.53">2</text>
<text transform="translate(756.96 1225.05) rotate(-16.58) scale(1,1.04)" y="10.53">0</text>
<text transform="translate(839.55 1200.46) rotate(-16.58) scale(1,1.04)" y="10.53">0</text>
<text transform="translate(922.15 1175.87) rotate(-16.58) scale(1,1.04)" y="10.53">0</text>
<text transform="translate(1004.75 1151.28) rotate(-16.58) scale(1,1.04)" y="10.53">0</text>
<text transform="translate(235.27 1260.73) rotate(-9.69) scale(1,1.04)" y="10.53">0</text>
<text transform="translate(320.23 1246.23) rotate(-9.69) scale(1,1.04)" y="10.53">0</text>
<text transform="translate(399.52 1232.7) rotate(-9.69) scale(1,1.04)" y="10.53">13</text>
<text transform="translate(490.13 1217.23) rotate(-9.69) scale(1,1.04)" y="10.53">0</text>
<text transform="translate(575.08 1202.73) rotate(-9.69) scale(1,1.04)" y="10.53">0</text>
<text transform="translate(660.03 1188.23) rotate(-9.69) scale(1,1.04)" y="10.53">0</text>
<text transform="translate(744.98 1173.74) rotate(-9.69) scale(1,1.04)" y="10.53">0</text>
<text transform="translate(834.95 1158.38) rotate(-9.69) scale(1,1.04)" y="10.53">1</text>
<text transform="translate(914.89 1144.74) rotate(-9.69) scale(1,1.04)" y="10.53">0</text>
<text transform="translate(999.84 1130.24) rotate(-9.69) scale(1,1.04)" y="10.53">0</text>
<text transform="translate(222.79 1146.54) rotate(-2.79) scale(1,1.04)" y="10.53">0</text>
<text transform="translate(308.87 1142.34) rotate(-2.79) scale(1,1.04)" y="10.53">0</text>
<text transform="translate(389 1138.44) rotate(-2.79) scale(1,1.04)" y="10.53">10</text>
<text transform="translate(486.11 1133.7) rotate(-2.79) scale(1,1.04)" y="10.53">1</text>
<text transform="translate(567.1 1129.75) rotate(-2.79) scale(1,1.04)" y="10.53">0</text>
<text transform="translate(653.18 1125.55) rotate(-2.79) scale(1,1.04)" y="10.53">0</text>
<text transform="translate(739.26 1121.35) rotate(-2.79) scale(1,1.04)" y="10.53">0</text>
<text transform="translate(824.97 1117.17) rotate(-2.79) scale(1,1.04)" y="10.53">2</text>
<text transform="translate(916.5 1112.71) rotate(-2.79) scale(1,1.04)" y="10.53">1</text>
<text transform="translate(997.49 1108.76) rotate(-2.79) scale(1,1.04)" y="10.53">0</text>
<text transform="translate(224.1 1031.68) rotate(4.1) scale(1,1.04)" y="10.53">0</text>
<text transform="translate(310.06 1037.84) rotate(4.1) scale(1,1.04)" y="10.53">0</text>
<text transform="translate(396.27 1044.03) rotate(4.1) scale(1,1.04)" y="10.53">3</text>
<text transform="translate(482.01 1050.17) rotate(4.1) scale(1,1.04)" y="10.53">9</text>
<text transform="translate(567.94 1056.33) rotate(4.1) scale(1,1.04)" y="10.53">0</text>
<text transform="translate(653.9 1062.5) rotate(4.1) scale(1,1.04)" y="10.53">0</text>
<text transform="translate(739.86 1068.66) rotate(4.1) scale(1,1.04)" y="10.53">0</text>
<text transform="translate(825.45 1074.8) rotate(4.1) scale(1,1.04)" y="10.53">2</text>
<text transform="translate(911.78 1080.98) rotate(4.1) scale(1,1.04)" y="10.53">0</text>
<text transform="translate(997.74 1087.15) rotate(4.1) scale(1,1.04)" y="10.53">0</text>
<text transform="translate(239.19 917.81) rotate(10.99) scale(1,1.04)" y="10.53">0</text>
<text transform="translate(323.79 934.24) rotate(10.99) scale(1,1.04)" y="10.53">0</text>
<text transform="translate(407.17 950.44) rotate(10.99) scale(1,1.04)" y="10.53">4</text>
<text transform="translate(493.19 967.15) rotate(10.99) scale(1,1.04)" y="10.53">8</text>
<text transform="translate(577.58 983.55) rotate(10.99) scale(1,1.04)" y="10.53">0</text>
<text transform="translate(662.18 999.98) rotate(10.99) scale(1,1.04)" y="10.53">0</text>
<text transform="translate(746.78 1016.42) rotate(10.99) scale(1,1.04)" y="10.53">0</text>
<text transform="translate(831.02 1032.79) rotate(10.99) scale(1,1.04)" y="10.53">2</text>
<text transform="translate(915.98 1049.29) rotate(10.99) scale(1,1.04)" y="10.53">0</text>
<text transform="translate(1000.57 1065.73) rotate(10.99) scale(1,1.04)" y="10.53">0</text>
<text transform="translate(267.83 806.57) rotate(17.89) scale(1,1.04)" y="10.53">0</text>
<text transform="translate(349.85 833.04) rotate(17.89) scale(1,1.04)" y="10.53">0</text>
<text transform="translate(432.06 859.57) rotate(17.89) scale(1,1.04)" y="10.53">8</text>
<text transform="translate(518.72 887.54) rotate(17.89) scale(1,1.04)" y="10.53">1</text>
<text transform="translate(595.89 912.45) rotate(17.89) scale(1,1.04)" y="10.53">0</text>
<text transform="translate(677.91 938.92) rotate(17.89) scale(1,1.04)" y="10.53">0</text>
<text transform="translate(759.92 965.39) rotate(17.89) scale(1,1.04)" y="10.53">0</text>
<text transform="translate(840.75 991.48) rotate(17.89) scale(1,1.04)" y="10.53">4</text>
<text transform="translate(923.95 1018.33) rotate(17.89) scale(1,1.04)" y="10.53">0</text>
<text transform="translate(1005.96 1044.8) rotate(17.89) scale(1,1.04)" y="10.53">0</text>
<text transform="translate(309.62 699.57) rotate(24.78) scale(1,1.04)" y="10.53">0</text>
<text transform="translate(387.87 735.69) rotate(24.78) scale(1,1.04)" y="10.53">0</text>
<text transform="translate(466.34 771.92) rotate(24.78) scale(1,1.04)" y="10.53">3</text>
<text transform="translate(538.95 805.44) rotate(24.78) scale(1,1.04)" y="10.53">10</text>
<text transform="translate(622.6 844.06) rotate(24.78) scale(1,1.04)" y="10.53">0</text>
<text transform="translate(700.85 880.18) rotate(24.78) scale(1,1.04)" y="10.53">0</text>
<text transform="translate(779.09 916.3) rotate(24.78) scale(1,1.04)" y="10.53">0</text>
<text transform="translate(857 952.27) rotate(24.78) scale(1,1.04)" y="10.53">2</text>
<text transform="translate(935.58 988.55) rotate(24.78) scale(1,1.04)" y="10.53">0</text>
<text transform="translate(1013.82 1024.67) rotate(24.78) scale(1,1.04)" y="10.53">0</text>
<text transform="translate(363.95 598.36) rotate(31.67) scale(1,1.04)" y="10.53">0</text>
<text transform="translate(437.3 643.62) rotate(31.67) scale(1,1.04)" y="10.53">0</text>
<text transform="translate(510.64 688.87) rotate(31.67) scale(1,1.04)" y="10.53">0</text>
<text transform="translate(582.93 733.47) rotate(31.67) scale(1,1.04)" y="10.53">4</text>
<text transform="translate(657.5 779.48) rotate(31.67) scale(1,1.04)" y="10.53">8</text>
<text transform="translate(730.67 824.62) rotate(31.67) scale(1,1.04)" y="10.53">0</text>
<text transform="translate(804.01 869.87) rotate(31.67) scale(1,1.04)" y="10.53">0</text>
<text transform="translate(877.36 915.13) rotate(31.67) scale(1,1.04)" y="10.53">0</text>
<text transform="translate(950.7 960.38) rotate(31.67) scale(1,1.04)" y="10.53">0</text>
<text transform="translate(1023.74 1005.44) rotate(31.67) scale(1,1.04)" y="10.53">2</text>
<text transform="translate(430.04 504.41) rotate(38.57) scale(1,1.04)" y="10.53">0</text>
<text transform="translate(497.42 558.14) rotate(38.57) scale(1,1.04)" y="10.53">0</text>
<text transform="translate(568.78 615.04) rotate(38.57) scale(1,1.04)" y="10.53">1</text>
<text transform="translate(627.7 662.02) rotate(38.57) scale(1,1.04)" y="10.53">13</text>
<text transform="translate(699.57 719.32) rotate(38.57) scale(1,1.04)" y="10.53">0</text>
<text transform="translate(766.95 773.05) rotate(38.57) scale(1,1.04)" y="10.53">0</text>
<text transform="translate(834.33 826.77) rotate(38.57) scale(1,1.04)" y="10.53">0</text>
<text transform="translate(901.71 880.5) rotate(38.57) scale(1,1.04)" y="10.53">0</text>
<text transform="translate(969.1 934.23) rotate(38.57) scale(1,1.04)" y="10.53">0</text>
<text transform="translate(1036.48 987.95) rotate(38.57) scale(1,1.04)" y="10.53">0</text>
<text transform="translate(506.92 419.06) rotate(45.46) scale(1,1.04)" y="10.53">0</text>
<text transform="translate(567.37 480.49) rotate(45.46) scale(1,1.04)" y="10.53">0</text>
<text transform="translate(627.67 541.78) rotate(45.46) scale(1,1.04)" y="10.53">6</text>
<text transform="translate(688.47 603.56) rotate(45.46) scale(1,1.04)" y="10.53">7</text>
<text transform="translate(748.71 664.77) rotate(45.46) scale(1,1.04)" y="10.53">0</text>
<text transform="translate(809.15 726.19) rotate(45.46) scale(1,1.04)" y="10.53">0</text>
<text transform="translate(869.6 787.62) rotate(45.46) scale(1,1.04)" y="10.53">0</text>
<text transform="translate(933.62 852.68) rotate(45.46) scale(1,1.04)" y="10.53">1</text>
<text transform="translate(990.49 910.47) rotate(45.46) scale(1,1.04)" y="10.53">0</text>
<text transform="translate(1050.94 971.9) rotate(45.46) scale(1,1.04)" y="10.53">0</text>
<text transform="translate(593.49 343.56) rotate(52.35) scale(1,1.04)" y="10.53">0</text>
<text transform="translate(645.37 410.82) rotate(52.35) scale(1,1.04)" y="10.53">4</text>
<text transform="translate(698.76 480.04) rotate(52.35) scale(1,1.04)" y="10.53">0</text>
<text transform="translate(754.51 552.3) rotate(52.35) scale(1,1.04)" y="10.53">1</text>
<text transform="translate(804.19 616.71) rotate(52.35) scale(1,1.04)" y="10.53">3</text>
<text transform="translate(856.45 684.46) rotate(52.35) scale(1,1.04)" y="10.53">2</text>
<text transform="translate(909.09 752.7) rotate(52.35) scale(1,1.04)" y="10.53">2</text>
<text transform="translate(961.95 821.22) rotate(52.35) scale(1,1.04)" y="10.53">0</text>
<text transform="translate(1014.59 889.46) rotate(52.35) scale(1,1.04)" y="10.53">0</text>
<text transform="translate(1070.34 961.73) rotate(52.35) scale(1,1.04)" y="10.53">1</text>
<text transform="translate(688.49 279) rotate(59.25) scale(1,1.04)" y="10.53">0</text>
<text transform="translate(735.16 357.43) rotate(59.25) scale(1,1.04)" y="10.53">1</text>
<text transform="translate(776.44 426.81) rotate(59.25) scale(1,1.04)" y="10.53">2</text>
<text transform="translate(820.8 501.36) rotate(59.25) scale(1,1.04)" y="10.53">5</text>
<text transform="translate(864.76 575.24) rotate(59.25) scale(1,1.04)" y="10.53">0</text>
<text transform="translate(911.43 653.68) rotate(59.25) scale(1,1.04)" y="10.53">1</text>
<text transform="translate(952.26 722.3) rotate(59.25) scale(1,1.04)" y="10.53">4</text>
<text transform="translate(996.97 797.43) rotate(59.25) scale(1,1.04)" y="10.53">0</text>
<text transform="translate(1041.03 871.49) rotate(59.25) scale(1,1.04)" y="10.53">0</text>
<text transform="translate(1084.91 945.24) rotate(59.25) scale(1,1.04)" y="10.53">2</text>
<text transform="translate(790.56 226.3) rotate(66.14) scale(1,1.04)" y="10.53">0</text>
<text transform="translate(825.42 305.12) rotate(66.14) scale(1,1.04)" y="10.53">0</text>
<text transform="translate(860.37 384.12) rotate(66.14) scale(1,1.04)" y="10.53">5</text>
<text transform="translate(895.23 462.94) rotate(66.14) scale(1,1.04)" y="10.53">5</text>
<text transform="translate(930 541.56) rotate(66.14) scale(1,1.04)" y="10.53">0</text>
<text transform="translate(966.92 625.03) rotate(66.14) scale(1,1.04)" y="10.53">1</text>
<text transform="translate(1001.78 703.85) rotate(66.14) scale(1,1.04)" y="10.53">1</text>
<text transform="translate(1034.43 777.67) rotate(66.14) scale(1,1.04)" y="10.53">2</text>
<text transform="translate(1069.44 856.82) rotate(66.14) scale(1,1.04)" y="10.53">0</text>
<text transform="translate(1104.3 935.64) rotate(66.14) scale(1,1.04)" y="10.53">0</text>
<text transform="translate(898.22 186.24) rotate(73.03) scale(1,1.04)" y="10.53">0</text>
<text transform="translate(923.37 268.67) rotate(73.03) scale(1,1.04)" y="10.53">0</text>
<text transform="translate(948.57 351.29) rotate(73.03) scale(1,1.04)" y="10.53">8</text>
<text transform="translate(973.73 433.76) rotate(73.03) scale(1,1.04)" y="10.53">3</text>
<text transform="translate(1000.3 520.82) rotate(73.03) scale(1,1.04)" y="10.53">1</text>
<text transform="translate(1023.96 598.38) rotate(73.03) scale(1,1.04)" y="10.53">0</text>
<text transform="translate(1050.59 685.68) rotate(73.03) scale(1,1.04)" y="10.53">1</text>
<text transform="translate(1074.26 763.24) rotate(73.03) scale(1,1.04)" y="10.53">0</text>
<text transform="translate(1099.41 845.67) rotate(73.03) scale(1,1.04)" y="10.53">0</text>
<text transform="translate(1126.04 932.97) rotate(73.03) scale(1,1.04)" y="10.53">1</text>
</g>
<g class="g">
<text transform="translate(1980.06 506.12) rotate(-36.48) scale(1,1.04)" y="13.28">ZmChi32</text>
<text transform="translate(2045.54 606.8) rotate(-29.59) scale(1,1.04)" y="13.28">ZmChi33</text>
<text transform="translate(2098.45 714.61) rotate(-22.7) scale(1,1.04)" y="13.28">ZmChi34</text>
<text transform="translate(2138.05 827.99) rotate(-15.8) scale(1,1.04)" y="13.28">ZmChi9</text>
<text transform="translate(2163.75 945.3) rotate(-8.91) scale(1,1.04)" y="13.28">ZmChi10</text>
<text transform="translate(2175.18 1064.84) rotate(-2.02) scale(1,1.04)" y="13.28">ZmChi11</text>
<text transform="translate(2172.19 1184.9) rotate(4.88) scale(1,1.04)" y="13.28">ZmChi12</text>
<text transform="translate(2154.8 1303.73) rotate(11.77) scale(1,1.04)" y="13.28">ZmChi13</text>
<text transform="translate(2123.28 1419.61) rotate(18.66) scale(1,1.04)" y="13.28">ZmChi17</text>
<text transform="translate(2078.08 1530.87) rotate(25.56) scale(1,1.04)" y="13.28">ZmChi31</text>
<text transform="translate(2019.85 1635.91) rotate(32.45) scale(1,1.04)" y="13.28">ZmChi14</text>
<text transform="translate(1949.44 1733.19) rotate(39.34) scale(1,1.04)" y="13.28">ZmChi30</text>
<text transform="translate(1867.86 1821.32) rotate(46.24) scale(1,1.04)" y="13.28">ZmChi27</text>
<text transform="translate(1776.3 1899.03) rotate(53.13) scale(1,1.04)" y="13.28">ZmChi28</text>
<text transform="translate(1676.06 1965.18) rotate(60.02) scale(1,1.04)" y="13.28">ZmChi41</text>
<text transform="translate(1568.62 2018.82) rotate(66.92) scale(1,1.04)" y="13.28">ZmChi3</text>
<text transform="translate(1455.51 2059.18) rotate(73.81) scale(1,1.04)" y="13.28">ZmChi36</text>
<text transform="translate(1338.38 2085.68) rotate(80.7) scale(1,1.04)" y="13.28">ZmChi22</text>
<text transform="translate(1218.91 2097.92) rotate(87.6) scale(1,1.04)" y="13.28">ZmChi29</text>
<text transform="translate(1098.84 2095.74) rotate(-85.51) scale(1,1.04)" y="13.28" text-anchor="end">ZmChi16</text>
<text transform="translate(979.89 2079.16) rotate(-78.62) scale(1,1.04)" y="13.28" text-anchor="end">ZmChi42</text>
<text transform="translate(863.8 2048.42) rotate(-71.72) scale(1,1.04)" y="13.28" text-anchor="end">ZmChi5</text>
<text transform="translate(752.23 2003.98) rotate(-64.83) scale(1,1.04)" y="13.28" text-anchor="end">ZmChi15</text>
<text transform="translate(646.81 1946.46) rotate(-57.94) scale(1,1.04)" y="13.28" text-anchor="end">ZmChi21</text>
<text transform="translate(549.05 1876.71) rotate(-51.05) scale(1,1.04)" y="13.28" text-anchor="end">ZmChi19</text>
<text transform="translate(460.37 1795.73) rotate(-44.15) scale(1,1.04)" y="13.28" text-anchor="end">ZmChi26</text>
<text transform="translate(382.05 1704.69) rotate(-37.26) scale(1,1.04)" y="13.28" text-anchor="end">ZmChi2</text>
<text transform="translate(315.22 1604.91) rotate(-30.37) scale(1,1.04)" y="13.28" text-anchor="end">ZmChi35</text>
<text transform="translate(260.85 1497.83) rotate(-23.47) scale(1,1.04)" y="13.28" text-anchor="end">ZmChi6</text>
<text transform="translate(219.72 1384.99) rotate(-16.58) scale(1,1.04)" y="13.28" text-anchor="end">ZmChi8</text>
<text transform="translate(192.44 1268.04) rotate(-9.69) scale(1,1.04)" y="13.28" text-anchor="end">ZmChi7</text>
<text transform="translate(179.39 1148.66) rotate(-2.79) scale(1,1.04)" y="13.28" text-anchor="end">ZmChi43</text>
<text transform="translate(180.76 1028.57) rotate(4.1) scale(1,1.04)" y="13.28" text-anchor="end">ZmChi38</text>
<text transform="translate(196.53 909.52) rotate(10.99) scale(1,1.04)" y="13.28" text-anchor="end">ZmChi20</text>
<text transform="translate(226.48 793.22) rotate(17.89) scale(1,1.04)" y="13.28" text-anchor="end">ZmChi23</text>
<text transform="translate(270.17 681.36) rotate(24.78) scale(1,1.04)" y="13.28" text-anchor="end">ZmChi37</text>
<text transform="translate(326.97 575.55) rotate(31.67) scale(1,1.04)" y="13.28" text-anchor="end">ZmChi24</text>
<text transform="translate(396.06 477.32) rotate(38.57) scale(1,1.04)" y="13.28" text-anchor="end">ZmChi40</text>
<text transform="translate(476.44 388.09) rotate(45.46) scale(1,1.04)" y="13.28" text-anchor="end">ZmChi18</text>
<text transform="translate(566.95 309.15) rotate(52.35) scale(1,1.04)" y="13.28" text-anchor="end">ZmChi25</text>
<text transform="translate(666.27 241.65) rotate(59.25) scale(1,1.04)" y="13.28" text-anchor="end">ZmChi39</text>
<text transform="translate(772.98 186.56) rotate(66.14) scale(1,1.04)" y="13.28" text-anchor="end">ZmChi1</text>
<text transform="translate(885.54 144.67) rotate(73.03) scale(1,1.04)" y="13.28" text-anchor="end">ZmChi4</text>
</g>
<g class="r">
<text transform="translate(992.99 172.37) rotate(-11.22) scale(1,1.04)" y="13.35">pero</text>
<text transform="translate(1009.76 256.9) rotate(-11.22) scale(1,1.04)" y="13.35">E.R.</text>
<text transform="translate(1026.52 341.43) rotate(-11.22) scale(1,1.04)" y="13.35">extr</text>
<text transform="translate(1043.29 425.96) rotate(-11.22) scale(1,1.04)" y="13.35">chlo</text>
<text transform="translate(1060.06 510.5) rotate(-11.22) scale(1,1.04)" y="13.35">mito</text>
<text transform="translate(1076.83 595.03) rotate(-11.22) scale(1,1.04)" y="13.35">plas</text>
<text transform="translate(1093.6 679.56) rotate(-11.22) scale(1,1.04)" y="13.35">cyto</text>
<text transform="translate(1110.37 764.1) rotate(-11.22) scale(1,1.04)" y="13.35">vacu</text>
<text transform="translate(1127.14 848.63) rotate(-11.22) scale(1,1.04)" y="13.35">golg</text>
<text transform="translate(1143.9 933.16) rotate(-11.22) scale(1,1.04)" y="13.35">nucl</text>
</g>
<defs><linearGradient id="cb" x1="0" y1="1" x2="0" y2="0"><stop offset="0" stop-color="#2b54b0"/><stop offset="0.3502" stop-color="#f0ebaf"/><stop offset="0.6975" stop-color="#d62b26"/><stop offset="1" stop-color="#d62b26"/></linearGradient></defs>
<rect x="1339.2" y="185" width="49.8" height="558" fill="url(#cb)"/>
<g stroke="#1a1a1a" stroke-width="2.4" fill="none"><path d="M1390 185V743"/>
<path d="M1389 741.4H1400.5"/>
<path d="M1389 663.9H1400.5"/>
<path d="M1389 586.3H1400.5"/>
<path d="M1389 508.8H1400.5"/>
<path d="M1389 431.3H1400.5"/>
<path d="M1389 353.8H1400.5"/>
<path d="M1389 277.9H1400.5"/>
<path d="M1389 186.8H1400.5"/>
</g><g class="k">
<text transform="translate(1402.2 741.4) scale(1,1.04)" y="10.66">0.00</text>
<text transform="translate(1402.2 663.9) scale(1,1.04)" y="10.66">2.00</text>
<text transform="translate(1402.2 586.3) scale(1,1.04)" y="10.66">4.00</text>
<text transform="translate(1402.2 508.8) scale(1,1.04)" y="10.66">6.00</text>
<text transform="translate(1402.2 431.3) scale(1,1.04)" y="10.66">8.00</text>
<text transform="translate(1402.2 353.8) scale(1,1.04)" y="10.66">10.00</text>
<text transform="translate(1402.2 277.9) scale(1,1.04)" y="10.66">12.00</text>
<text transform="translate(1402.2 186.8) scale(1,1.04)" y="10.66">14.00</text>
</g>

</svg></body></html>
